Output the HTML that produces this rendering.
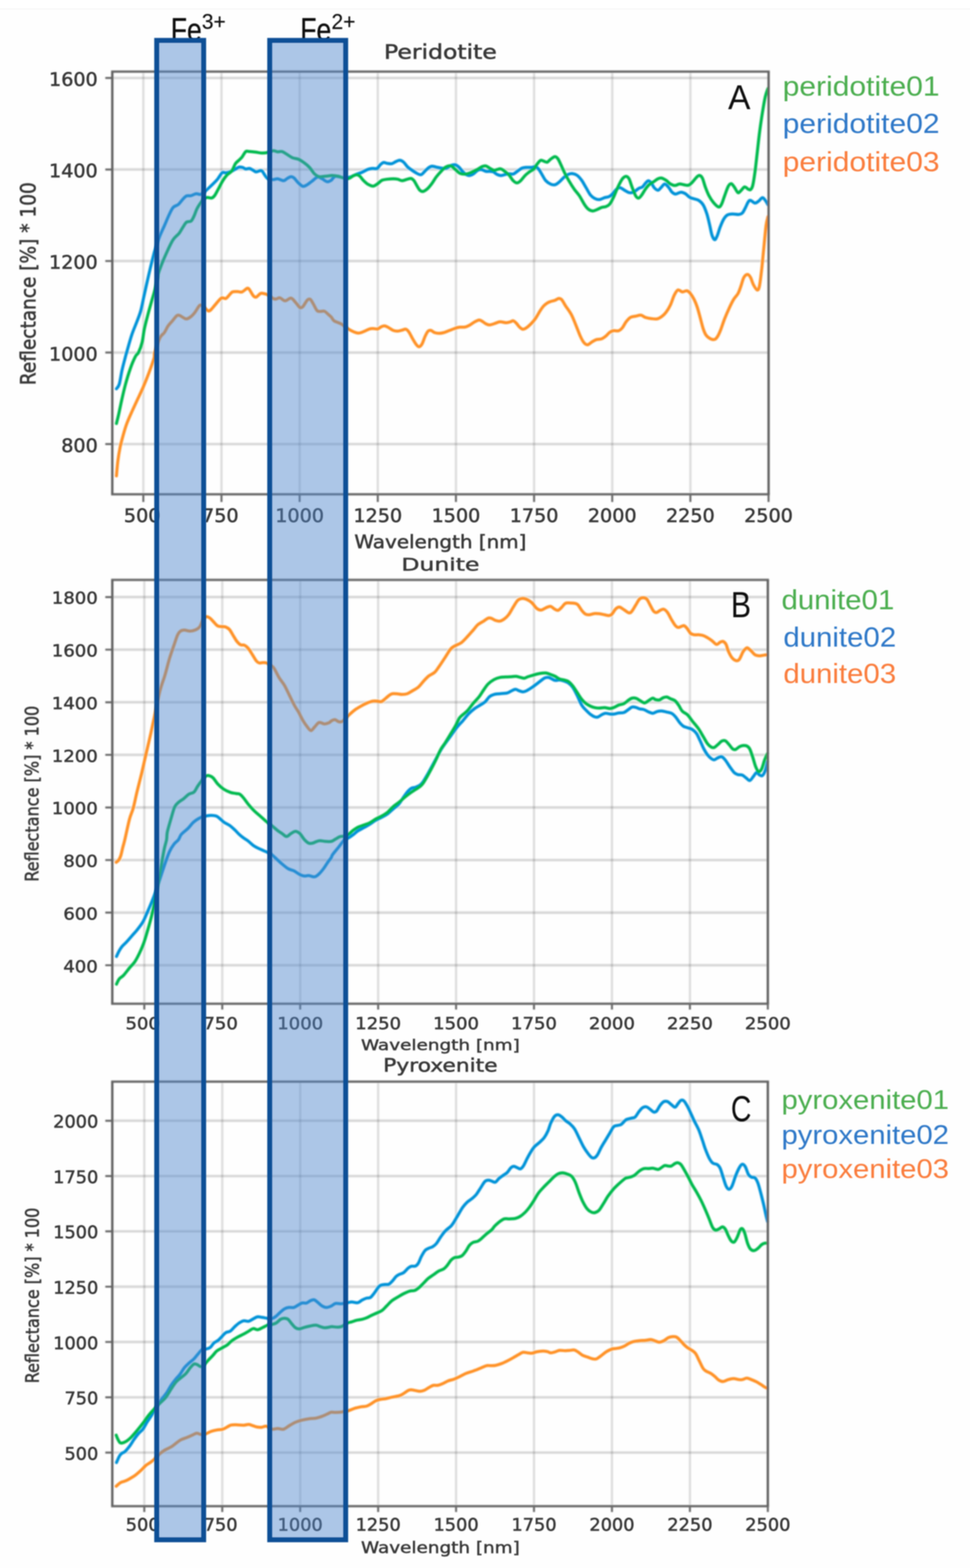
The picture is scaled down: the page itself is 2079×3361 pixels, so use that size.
<!DOCTYPE html>
<html lang="en"><head><meta charset="utf-8"><title>Reflectance spectra: Peridotite, Dunite, Pyroxenite</title>
<style>html,body{margin:0;padding:0;background:#fff}body{width:2079px;height:3361px;overflow:hidden}svg{display:block}</style></head><body>
<svg width="2079" height="3361" viewBox="0 0 2079 3361" role="img" aria-label="Reflectance spectra of peridotite, dunite and pyroxenite with Fe3+ and Fe2+ absorption bands">
<defs><filter id="bl" x="-5%" y="-5%" width="110%" height="110%"><feGaussianBlur stdDeviation="1.5"/></filter><filter id="br" x="-5%" y="-5%" width="110%" height="110%"><feGaussianBlur stdDeviation="1.0"/></filter><filter id="bt" x="-5%" y="-20%" width="110%" height="140%"><feGaussianBlur stdDeviation="1.2"/></filter></defs>
<rect width="2079" height="3361" fill="#fefefe"/><rect width="2079" height="18" fill="#ffffff"/><rect y="18" width="2079" height="2.5" fill="#f8f8f8"/>
<g filter="url(#bt)">
<text x="366" y="88" font-family='"Liberation Sans",sans-serif' font-size="70" fill="#111" stroke="#111" stroke-width="0.6"><tspan textLength="66.6" lengthAdjust="spacingAndGlyphs">Fe</tspan><tspan x="432.5" y="62.2" font-size="46" stroke-width="0.3" textLength="51.4" lengthAdjust="spacingAndGlyphs">3+</tspan></text>
<text x="643.5" y="88" font-family='"Liberation Sans",sans-serif' font-size="70" fill="#111" stroke="#111" stroke-width="0.6"><tspan textLength="66.6" lengthAdjust="spacingAndGlyphs">Fe</tspan><tspan x="710.5" y="62.2" font-size="46" stroke-width="0.3" textLength="51.4" lengthAdjust="spacingAndGlyphs">2+</tspan></text>
</g>
<g id="plotA">
<g filter="url(#bl)">
<path d="M307.2 153.5V1059.6M474.7 153.5V1059.6M642.2 153.5V1059.6M809.7 153.5V1059.6M977.2 153.5V1059.6M1144.7 153.5V1059.6M1312.2 153.5V1059.6M1479.7 153.5V1059.6" stroke="rgba(0,0,0,0.125)" stroke-width="5" fill="none"/>
<path d="M240.7 167.1H1647.3M240.7 363.3H1647.3M240.7 559.5H1647.3M240.7 755.7H1647.3M240.7 951.9H1647.3" stroke="rgba(0,0,0,0.15)" stroke-width="5.4" fill="none"/>
<path d="M249.6 1019.9C250.1 1014.6 251.3 998.5 252.6 988.2C253.9 978.0 255.7 967.3 257.5 958.4C259.3 949.5 261.2 942.9 263.5 934.6C265.8 926.3 268.1 917.7 271.4 908.8C274.7 899.9 279.3 889.9 283.3 881.0C287.3 872.1 291.2 863.8 295.2 855.2C299.2 846.6 303.1 838.6 307.1 829.4C311.1 820.1 315.2 810.0 319.0 799.7C322.8 789.5 327.9 775.2 330.0 767.9C332.1 760.6 329.5 763.2 331.6 755.9C333.7 748.6 339.3 731.2 342.7 724.1C346.1 717.0 349.3 717.2 352.2 713.0C355.1 708.8 357.3 702.9 360.2 698.7C363.1 694.5 366.5 691.3 369.7 687.6C372.9 683.9 376.5 678.4 379.2 676.5C381.9 674.6 382.4 675.3 385.6 676.5C388.8 677.7 394.6 683.0 398.3 683.5C402.0 684.0 404.6 681.9 407.8 679.7C411.0 677.5 413.9 674.4 417.3 670.2C420.7 666.0 425.2 656.4 428.4 654.3C431.6 652.2 433.4 655.5 436.3 657.5C439.2 659.5 443.2 665.2 445.9 666.3C448.5 667.3 449.6 666.1 452.2 663.8C454.8 661.5 458.0 656.8 461.7 652.7C465.4 648.6 470.7 641.1 474.4 639.0C478.1 636.9 481.4 640.9 484.0 640.0C486.6 639.1 487.9 636.1 490.3 633.7C492.7 631.3 495.1 627.1 498.3 625.7C501.5 624.3 506.0 625.1 509.4 625.1C512.8 625.1 515.5 626.9 518.9 625.7C522.3 624.5 527.4 618.6 530.0 617.8C532.6 617.0 532.7 618.4 534.8 621.0C536.9 623.6 540.3 631.1 542.7 633.7C545.1 636.3 546.4 637.6 549.0 636.8C551.6 636.0 555.7 630.1 558.6 628.9C561.5 627.7 563.9 629.0 566.5 629.5C569.1 630.0 571.2 630.4 574.4 632.1C577.6 633.9 582.7 638.5 585.6 640.0C588.5 641.5 589.5 641.3 591.9 641.0C594.3 640.7 596.6 637.8 599.8 638.4C603.0 639.0 607.0 644.7 611.0 644.8C615.0 644.9 620.0 638.5 623.7 639.0C627.4 639.5 630.0 644.6 633.2 647.9C636.4 651.2 640.1 657.4 642.7 659.0C645.3 660.6 646.4 660.1 649.0 657.5C651.6 654.9 656.0 645.9 658.6 643.2C661.2 640.6 662.8 640.3 664.9 641.6C667.0 642.9 668.9 647.1 671.3 651.1C673.7 655.1 676.8 662.6 679.2 665.4C681.6 668.1 683.0 667.3 685.6 667.6C688.2 667.9 692.2 666.0 695.1 667.0C698.0 668.0 700.5 671.2 703.0 673.3C705.5 675.4 707.9 677.3 710.0 679.7C712.1 682.1 713.3 685.6 715.9 687.6C718.5 689.6 722.5 690.4 725.4 691.7C728.3 693.0 729.6 693.3 733.3 695.6C737.0 697.9 743.4 703.1 747.6 705.7C751.8 708.3 755.2 710.0 758.7 711.4C762.2 712.8 764.8 714.1 768.3 714.0C771.8 713.9 775.4 712.3 779.4 710.8C783.4 709.3 788.4 706.2 792.1 705.1C795.8 704.0 798.7 704.4 801.6 704.4C804.5 704.4 806.9 705.8 809.5 705.1C812.1 704.4 814.9 701.4 817.5 700.3C820.1 699.2 822.8 698.3 825.4 698.7C828.0 699.1 830.4 700.9 833.3 702.5C836.2 704.1 839.7 707.1 842.9 708.3C846.1 709.5 849.2 709.9 852.4 709.8C855.6 709.7 859.0 708.3 861.9 707.6C864.8 706.9 867.4 705.1 869.8 705.7C872.2 706.3 873.8 708.1 876.2 711.4C878.6 714.7 881.5 721.2 884.1 725.7C886.8 730.2 889.7 735.5 892.1 738.4C894.5 741.3 896.3 743.5 898.4 743.2C900.5 742.9 902.7 740.5 904.8 736.8C906.9 733.1 909.0 725.5 911.1 721.0C913.2 716.5 915.4 711.9 917.5 709.8C919.6 707.7 921.4 707.8 923.8 708.3C926.2 708.8 928.8 712.0 931.7 713.0C934.6 714.0 938.1 714.6 941.3 714.6C944.5 714.6 947.1 714.0 950.8 713.0C954.5 712.0 959.3 709.9 963.5 708.3C967.7 706.7 972.5 704.7 976.2 703.5C979.9 702.3 982.3 701.7 985.7 701.3C989.1 700.9 993.4 701.7 996.8 701.0C1000.2 700.3 1002.8 699.0 1006.3 697.1C1009.8 695.2 1014.0 691.6 1017.5 689.8C1021.0 687.9 1024.4 686.2 1027.0 686.0C1029.6 685.8 1030.9 687.3 1033.3 688.6C1035.7 689.9 1038.6 692.7 1041.3 694.0C1044.0 695.3 1046.3 696.5 1049.2 696.5C1052.1 696.5 1055.0 695.1 1058.7 694.0C1062.4 692.9 1067.2 690.2 1071.4 689.8C1075.6 689.4 1080.4 691.7 1084.1 691.7C1087.8 691.7 1091.0 690.5 1093.7 689.8C1096.4 689.1 1097.9 687.2 1100.0 687.6C1102.1 688.0 1103.9 690.0 1106.3 692.4C1108.7 694.8 1111.9 699.7 1114.3 701.9C1116.7 704.1 1118.5 705.4 1120.6 705.7C1122.7 706.0 1124.3 705.2 1127.0 703.5C1129.7 701.8 1133.1 699.0 1136.5 695.6C1139.9 692.2 1144.2 687.7 1147.6 682.9C1151.0 678.1 1154.2 671.5 1157.1 667.0C1160.0 662.5 1162.4 658.8 1165.1 655.9C1167.8 653.0 1170.5 651.1 1173.0 649.5C1175.5 647.9 1177.2 647.2 1180.0 646.3C1182.8 645.3 1186.6 644.9 1189.5 643.8C1192.4 642.7 1195.1 640.0 1197.5 639.7C1199.9 639.4 1201.4 639.7 1203.8 642.2C1206.2 644.7 1208.3 649.6 1211.7 654.9C1215.1 660.2 1220.7 667.1 1224.4 674.0C1228.1 680.9 1230.8 688.5 1234.0 696.2C1237.2 703.9 1240.6 713.6 1243.5 720.0C1246.4 726.4 1248.8 731.1 1251.4 734.3C1254.1 737.5 1256.5 739.3 1259.4 739.0C1262.3 738.7 1265.7 734.6 1268.9 732.7C1272.1 730.9 1275.0 729.0 1278.4 727.9C1281.8 726.8 1286.1 727.6 1289.5 726.3C1292.9 725.0 1296.1 722.4 1299.0 720.0C1301.9 717.6 1304.3 714.0 1307.0 712.1C1309.7 710.2 1311.7 709.4 1314.9 708.9C1318.1 708.4 1322.8 710.0 1326.0 708.9C1329.2 707.8 1331.3 705.7 1334.0 702.5C1336.7 699.3 1339.0 693.5 1341.9 689.8C1344.8 686.1 1348.0 682.3 1351.4 680.3C1354.8 678.3 1358.8 678.6 1362.5 677.8C1366.2 677.0 1370.2 675.2 1373.7 675.6C1377.2 676.0 1379.5 679.1 1383.2 680.3C1386.9 681.5 1391.7 682.4 1395.9 682.9C1400.1 683.4 1404.9 684.2 1408.6 683.5C1412.3 682.8 1414.9 681.1 1418.1 678.7C1421.3 676.3 1424.4 673.4 1427.6 669.2C1430.8 665.0 1434.2 659.4 1437.1 653.3C1440.0 647.2 1442.4 638.0 1445.1 632.7C1447.8 627.4 1450.1 622.8 1453.0 621.6C1455.9 620.4 1459.3 625.4 1462.5 625.7C1465.7 626.0 1469.2 622.6 1472.1 623.2C1475.0 623.8 1477.4 626.3 1480.0 629.5C1482.6 632.7 1485.5 637.4 1487.9 642.2C1490.3 647.0 1492.2 651.8 1494.3 658.1C1496.4 664.5 1498.5 672.6 1500.6 680.3C1502.7 688.0 1504.9 697.8 1507.0 704.1C1509.1 710.5 1510.6 714.7 1513.3 718.4C1516.0 722.1 1519.7 724.8 1522.9 726.3C1526.1 727.8 1529.8 728.3 1532.4 727.3C1535.0 726.2 1536.6 723.6 1538.7 720.0C1540.8 716.4 1542.7 711.8 1545.1 705.7C1547.5 699.6 1550.1 690.9 1553.0 683.5C1555.9 676.1 1559.3 668.2 1562.5 661.3C1565.7 654.4 1568.9 647.5 1572.1 642.2C1575.3 636.9 1579.0 634.2 1581.6 629.5C1584.2 624.8 1585.8 619.5 1587.9 613.7C1590.0 607.9 1591.9 598.8 1594.3 594.6C1596.7 590.4 1599.8 588.3 1602.2 588.3C1604.6 588.3 1606.5 590.9 1608.6 594.6C1610.7 598.3 1612.5 606.0 1614.9 610.5C1617.3 615.0 1620.8 621.1 1622.9 621.6C1625.0 622.1 1626.0 620.9 1627.6 613.7C1629.2 606.6 1630.8 592.5 1632.4 578.7C1634.0 564.9 1635.5 547.0 1637.1 531.1C1638.7 515.2 1640.4 494.6 1641.9 483.5C1643.4 472.4 1645.3 467.6 1646.0 464.4" stroke="#ff9226" stroke-width="6.5" fill="none" stroke-linejoin="round" stroke-linecap="round"/>
<path d="M249.6 833.4C250.6 831.8 253.6 830.1 255.6 823.5C257.6 816.9 259.4 803.3 261.5 793.7C263.6 784.1 266.9 772.3 268.5 766.0C270.1 759.7 269.0 763.9 271.3 755.9C273.6 747.9 278.7 728.9 282.4 717.8C286.1 706.7 290.3 697.7 293.5 689.2C296.7 680.7 299.0 675.5 301.4 667.0C303.8 658.5 305.7 647.9 307.8 638.4C309.9 628.9 311.7 620.4 314.1 609.8C316.5 599.2 319.5 586.0 322.1 574.9C324.8 563.8 328.4 549.3 330.0 543.2C331.6 537.1 329.8 543.7 331.6 538.1C333.5 532.5 337.7 518.5 341.1 509.5C344.5 500.5 348.5 492.6 352.2 484.1C355.9 475.6 360.1 465.3 363.3 458.7C366.5 452.1 368.1 447.8 371.3 444.4C374.5 441.0 379.0 441.0 382.4 438.1C385.8 435.2 389.0 430.0 391.9 427.0C394.8 424.0 396.9 421.3 399.8 420.0C402.7 418.7 405.9 420.2 409.4 419.4C412.8 418.6 417.1 415.6 420.5 415.2C423.9 414.8 427.1 417.4 430.0 416.8C432.9 416.2 434.2 414.8 437.9 411.7C441.6 408.6 447.7 402.7 452.2 398.4C456.7 394.1 460.9 390.3 464.9 385.7C468.9 381.1 472.8 373.0 476.0 370.5C479.2 368.0 481.1 370.9 484.0 370.5C486.9 370.1 490.3 369.5 493.5 368.3C496.7 367.1 499.8 365.2 503.0 363.5C506.2 361.8 509.6 358.9 512.5 358.1C515.4 357.4 518.1 358.3 520.5 359.0C522.9 359.7 524.4 361.9 526.8 362.2C529.2 362.5 532.1 360.5 534.8 361.0C537.4 361.5 540.3 363.8 542.7 365.1C545.1 366.4 546.6 368.5 549.0 368.6C551.4 368.8 554.9 366.3 557.0 366.0C559.1 365.7 559.9 365.0 561.7 366.7C563.6 368.4 566.0 373.4 568.1 376.2C570.2 378.9 571.5 381.7 574.4 383.2C577.3 384.7 582.1 385.1 585.6 385.1C589.1 385.1 591.4 382.8 595.1 383.2C598.8 383.6 604.4 387.4 607.8 387.3C611.2 387.2 613.1 383.9 615.7 382.5C618.4 381.1 621.3 378.9 623.7 378.7C626.1 378.5 627.4 379.1 630.0 381.3C632.6 383.5 636.3 389.1 639.5 392.1C642.7 395.1 646.1 398.6 649.0 399.4C651.9 400.2 653.8 398.6 657.0 396.8C660.2 395.1 664.1 391.8 668.1 388.9C672.1 386.0 677.1 380.3 680.8 379.4C684.5 378.4 686.9 381.5 690.3 383.2C693.7 384.9 698.1 389.0 701.4 389.5C704.7 390.0 708.1 387.4 710.0 386.3C711.9 385.2 711.2 384.6 712.7 383.2C714.2 381.8 716.4 378.4 719.0 377.8C721.6 377.2 725.1 378.9 728.6 379.4C732.1 379.9 736.0 381.0 739.7 381.0C743.4 381.0 746.8 380.6 750.8 379.4C754.8 378.2 759.3 375.4 763.5 373.7C767.7 372.0 772.0 371.0 776.2 369.2C780.4 367.4 785.2 364.3 788.9 362.9C792.6 361.5 795.2 361.3 798.4 361.0C801.6 360.7 805.0 362.4 807.9 361.0C810.8 359.6 813.5 354.5 815.9 352.4C818.3 350.3 819.8 348.7 822.2 348.3C824.6 347.9 827.3 349.8 830.2 350.2C833.1 350.6 836.5 351.5 839.7 350.8C842.9 350.1 846.3 347.2 849.2 346.0C852.1 344.8 854.5 343.2 857.1 343.5C859.8 343.8 862.5 345.3 865.1 347.6C867.8 349.9 870.4 354.5 873.0 357.1C875.6 359.8 878.1 361.4 881.0 363.5C883.9 365.6 887.1 367.9 890.5 369.8C893.9 371.7 898.4 374.9 901.6 374.6C904.8 374.4 906.9 370.7 909.5 368.3C912.1 365.9 914.9 362.3 917.5 360.3C920.1 358.3 922.5 356.6 925.4 356.2C928.3 355.8 931.5 357.4 934.9 358.1C938.3 358.8 942.3 359.9 946.0 360.3C949.7 360.7 953.6 361.2 957.1 360.3C960.6 359.4 963.5 355.8 966.7 354.6C969.9 353.4 973.3 352.6 976.2 353.3C979.1 354.0 981.5 356.2 984.1 358.7C986.8 361.2 989.5 365.6 992.1 368.3C994.8 371.0 997.6 373.3 1000.0 374.6C1002.4 375.9 1003.9 376.5 1006.3 376.2C1008.7 375.9 1011.4 374.9 1014.3 373.0C1017.2 371.1 1020.9 366.7 1023.8 365.1C1026.7 363.5 1028.8 363.1 1031.7 363.5C1034.6 363.9 1038.4 366.7 1041.3 367.3C1044.2 367.9 1046.6 367.1 1049.2 367.3C1051.8 367.5 1054.4 367.2 1057.1 368.3C1059.8 369.4 1062.4 372.4 1065.1 373.7C1067.8 375.0 1070.3 376.0 1073.0 376.2C1075.7 376.4 1078.1 375.2 1081.0 374.6C1083.9 374.0 1087.3 372.7 1090.5 372.4C1093.7 372.1 1096.8 373.9 1100.0 373.0C1103.2 372.1 1106.3 368.8 1109.5 366.7C1112.7 364.6 1115.8 361.6 1119.0 360.3C1122.2 359.0 1125.1 359.0 1128.6 358.7C1132.0 358.4 1136.5 359.0 1139.7 358.7C1142.9 358.4 1145.2 356.6 1147.6 357.1C1150.0 357.6 1151.6 359.0 1154.0 361.9C1156.4 364.8 1159.3 370.4 1161.9 374.6C1164.5 378.8 1166.8 384.0 1169.8 387.3C1172.8 390.6 1176.7 393.2 1180.0 394.6C1183.3 396.1 1186.3 396.8 1189.5 396.0C1192.7 395.2 1195.8 392.3 1199.0 389.7C1202.2 387.1 1205.4 382.8 1208.6 380.2C1211.8 377.6 1214.9 375.1 1218.1 373.8C1221.3 372.5 1224.4 371.8 1227.6 372.2C1230.8 372.6 1233.9 373.6 1237.1 376.0C1240.3 378.4 1243.5 382.1 1246.7 386.5C1249.9 390.9 1253.0 397.1 1256.2 402.4C1259.4 407.7 1262.5 414.4 1265.7 418.3C1268.9 422.2 1272.0 424.0 1275.2 425.6C1278.4 427.2 1281.3 428.1 1284.8 427.8C1288.2 427.5 1292.5 424.8 1295.9 423.7C1299.3 422.6 1302.5 422.8 1305.4 421.4C1308.3 420.0 1310.7 417.7 1313.3 415.1C1315.9 412.5 1318.6 407.7 1321.3 405.6C1324.0 403.5 1326.3 402.0 1329.2 402.4C1332.1 402.8 1335.5 406.1 1338.7 407.8C1341.9 409.6 1345.1 412.2 1348.3 412.9C1351.5 413.6 1354.4 413.4 1357.8 411.9C1361.2 410.4 1365.7 405.9 1368.9 404.0C1372.1 402.1 1374.4 402.7 1376.8 400.8C1379.2 398.9 1381.1 395.1 1383.2 392.9C1385.3 390.7 1387.4 387.7 1389.5 387.5C1391.6 387.3 1393.8 389.4 1395.9 391.9C1398.0 394.4 1399.8 399.8 1402.2 402.4C1404.6 405.0 1407.8 407.8 1410.2 407.8C1412.6 407.8 1414.1 404.6 1416.5 402.4C1418.9 400.2 1421.8 394.7 1424.4 394.4C1427.1 394.1 1429.8 397.9 1432.4 400.8C1435.1 403.7 1437.7 409.4 1440.3 411.9C1442.9 414.4 1445.1 416.0 1448.3 416.0C1451.5 416.0 1456.0 412.0 1459.4 411.9C1462.8 411.8 1465.7 413.2 1468.9 415.1C1472.1 417.0 1475.2 421.1 1478.4 423.0C1481.6 424.9 1484.7 425.2 1487.9 426.3C1491.1 427.4 1494.3 427.4 1497.5 429.5C1500.7 431.6 1504.1 434.2 1507.0 439.0C1509.9 443.8 1512.5 450.7 1514.9 458.1C1517.3 465.5 1519.5 475.8 1521.3 483.5C1523.1 491.2 1524.3 499.1 1526.0 504.1C1527.7 509.1 1529.9 513.4 1531.7 513.7C1533.5 514.0 1535.1 510.2 1537.1 505.7C1539.1 501.2 1541.1 492.8 1543.5 486.7C1545.9 480.6 1548.8 473.5 1551.4 469.2C1554.1 464.9 1556.2 462.4 1559.4 460.6C1562.6 458.9 1566.5 458.9 1570.5 458.7C1574.5 458.5 1579.8 460.1 1583.2 459.7C1586.6 459.3 1588.7 458.9 1591.1 456.5C1593.5 454.1 1595.4 449.4 1597.5 445.4C1599.6 441.4 1602.0 435.3 1603.8 432.7C1605.6 430.1 1606.2 429.1 1608.6 429.5C1611.0 429.9 1615.2 434.9 1618.1 435.2C1621.0 435.5 1623.3 433.0 1626.0 431.1C1628.7 429.2 1631.6 424.1 1634.0 423.8C1636.4 423.5 1638.3 427.0 1640.3 429.5C1642.3 432.0 1645.0 437.4 1646.0 439.0" stroke="#0693d8" stroke-width="6.5" fill="none" stroke-linejoin="round" stroke-linecap="round"/>
<path d="M249.6 907.8C250.4 904.3 252.8 895.1 254.6 887.0C256.4 878.9 258.2 869.5 260.5 859.2C262.8 849.0 265.4 837.1 268.5 825.5C271.6 813.9 275.8 800.0 279.4 789.8C283.0 779.5 287.4 769.6 290.3 764.0C293.2 758.4 294.3 760.9 296.7 755.9C299.1 750.9 302.5 742.2 304.6 733.7C306.7 725.2 307.3 715.2 309.4 705.1C311.5 695.0 314.7 683.3 317.3 673.3C319.9 663.2 322.8 653.3 325.2 644.8C327.6 636.3 329.5 630.7 331.6 622.5C333.7 614.3 336.6 601.7 337.9 595.6C339.2 589.5 337.6 591.6 339.5 585.7C341.4 579.8 345.6 568.8 349.0 560.3C352.4 551.8 356.8 542.3 360.2 534.9C363.6 527.5 367.1 520.4 369.7 515.9C372.3 511.4 373.6 510.5 376.0 507.9C378.4 505.2 381.4 503.4 384.0 500.0C386.6 496.6 389.3 491.3 391.9 487.3C394.5 483.3 396.9 478.4 399.8 476.2C402.7 474.0 406.8 476.1 409.4 474.0C412.0 471.9 413.6 467.9 415.7 463.5C417.8 459.1 419.7 452.4 422.1 447.6C424.5 442.8 427.4 438.6 430.0 434.9C432.6 431.2 435.5 427.3 437.9 425.4C440.3 423.4 441.6 423.4 444.3 423.2C447.0 423.0 451.2 425.1 453.8 424.4C456.4 423.7 457.8 422.3 460.2 419.0C462.6 415.7 465.2 410.1 468.1 404.8C471.0 399.5 474.4 392.3 477.6 387.3C480.8 382.3 483.9 378.0 487.1 374.6C490.3 371.2 493.8 370.7 496.7 366.7C499.6 362.7 502.2 354.5 504.6 350.8C507.0 347.1 508.6 346.8 511.0 344.4C513.4 342.0 516.3 339.8 518.9 336.5C521.5 333.2 524.1 326.8 526.8 324.8C529.4 322.9 531.3 324.6 534.8 324.8C538.2 325.0 543.3 325.5 547.5 326.0C551.7 326.5 556.0 327.7 560.2 327.9C564.4 328.1 568.7 327.8 572.9 327.0C577.1 326.2 581.9 323.2 585.6 322.9C589.3 322.6 591.9 325.1 595.1 325.4C598.3 325.7 601.4 324.0 604.6 324.8C607.8 325.6 610.4 328.0 614.1 330.2C617.8 332.4 622.6 336.2 626.8 338.1C631.0 340.0 635.3 339.5 639.5 341.3C643.7 343.1 648.2 346.3 652.2 349.2C656.2 352.1 659.6 354.7 663.3 358.7C667.0 362.7 670.9 369.7 674.4 373.0C677.9 376.3 680.3 377.9 684.0 378.7C687.7 379.5 692.4 378.2 696.7 377.8C701.0 377.4 707.3 376.5 710.0 376.2C712.7 375.9 710.1 375.9 712.7 376.2C715.3 376.5 721.7 377.0 725.4 377.8C729.1 378.6 731.2 380.2 734.9 381.0C738.6 381.8 743.9 383.2 747.6 382.5C751.3 381.8 754.2 378.1 757.1 376.8C760.0 375.5 762.7 374.4 765.1 374.6C767.5 374.8 769.0 375.7 771.4 377.8C773.8 379.9 776.5 384.4 779.4 387.3C782.3 390.2 785.5 393.2 788.9 395.2C792.3 397.1 796.6 399.2 800.0 399.0C803.4 398.8 806.3 395.8 809.5 393.7C812.7 391.6 815.5 387.9 819.0 386.3C822.5 384.7 826.2 384.6 830.2 384.1C834.2 383.6 839.2 383.2 842.9 383.2C846.6 383.2 849.2 383.4 852.4 384.1C855.6 384.8 858.5 387.3 861.9 387.3C865.3 387.3 869.8 384.9 873.0 384.1C876.2 383.3 878.6 382.0 881.0 382.5C883.4 383.0 885.2 384.7 887.3 387.3C889.4 389.9 891.6 395.0 893.7 398.4C895.8 401.8 897.9 405.9 900.0 407.9C902.1 409.9 903.6 411.0 906.3 410.5C908.9 410.0 912.7 407.6 915.9 404.8C919.1 402.0 922.2 397.9 925.4 393.7C928.6 389.5 931.5 383.9 934.9 379.4C938.3 374.9 942.5 370.3 946.0 366.7C949.5 363.1 952.1 359.6 955.6 357.8C959.1 356.0 963.3 354.7 966.7 355.6C970.1 356.6 973.0 360.9 976.2 363.5C979.4 366.1 982.0 369.8 985.7 371.4C989.4 373.0 994.2 373.4 998.4 373.0C1002.6 372.6 1006.9 370.9 1011.1 369.2C1015.3 367.5 1020.1 364.9 1023.8 362.9C1027.5 360.9 1030.4 358.3 1033.3 357.1C1036.2 355.9 1038.6 355.1 1041.3 355.6C1044.0 356.1 1046.3 358.7 1049.2 360.3C1052.1 361.9 1056.1 364.6 1058.7 365.1C1061.3 365.6 1062.7 364.0 1065.1 363.5C1067.5 363.0 1070.3 361.4 1073.0 361.9C1075.7 362.4 1078.1 364.6 1081.0 366.7C1083.9 368.8 1087.3 371.2 1090.5 374.6C1093.7 378.0 1097.1 384.4 1100.0 387.3C1102.9 390.2 1105.2 392.1 1107.9 392.1C1110.6 392.1 1113.0 390.0 1115.9 387.3C1118.8 384.6 1122.2 379.4 1125.4 376.2C1128.6 373.0 1131.7 370.7 1134.9 368.3C1138.1 365.9 1141.8 364.5 1144.4 361.9C1147.1 359.2 1148.4 355.4 1150.8 352.4C1153.2 349.4 1156.0 344.9 1158.7 343.8C1161.4 342.7 1164.3 345.4 1166.7 346.0C1169.1 346.6 1170.8 348.4 1173.0 347.6C1175.2 346.8 1177.2 343.3 1180.0 341.3C1182.8 339.3 1186.8 335.8 1189.5 335.7C1192.2 335.6 1193.8 337.6 1195.9 340.5C1198.0 343.4 1199.8 348.2 1202.2 353.2C1204.6 358.2 1207.3 364.8 1210.2 370.6C1213.1 376.4 1216.3 382.3 1219.7 388.1C1223.1 393.9 1227.1 400.3 1230.8 405.6C1234.5 410.9 1238.2 414.2 1241.9 419.8C1245.6 425.4 1249.8 434.1 1253.0 438.9C1256.2 443.7 1258.1 446.2 1261.0 448.4C1263.9 450.6 1267.3 452.1 1270.5 452.2C1273.7 452.3 1276.8 450.3 1280.0 449.0C1283.2 447.7 1286.3 445.7 1289.5 444.6C1292.7 443.6 1296.1 443.9 1299.0 442.7C1301.9 441.5 1304.3 440.6 1307.0 437.3C1309.7 434.0 1312.0 429.1 1314.9 423.0C1317.8 416.9 1321.2 407.4 1324.4 400.8C1327.6 394.2 1331.1 387.1 1334.0 383.3C1336.9 379.5 1339.5 377.9 1341.9 377.9C1344.3 377.9 1346.2 379.5 1348.3 383.3C1350.4 387.1 1352.2 394.7 1354.6 400.8C1357.0 406.9 1360.1 415.8 1362.5 419.8C1364.9 423.8 1366.8 424.9 1368.9 424.6C1371.0 424.4 1372.8 421.5 1375.2 418.3C1377.6 415.1 1380.6 409.3 1383.2 405.6C1385.8 401.9 1388.2 398.6 1391.1 396.0C1394.0 393.4 1397.4 391.8 1400.6 389.7C1403.8 387.6 1407.3 384.6 1410.2 383.3C1413.1 382.0 1415.2 381.2 1418.1 381.7C1421.0 382.2 1424.4 384.4 1427.6 386.5C1430.8 388.6 1433.9 392.5 1437.1 394.4C1440.3 396.2 1443.5 397.6 1446.7 397.6C1449.9 397.6 1453.0 394.7 1456.2 394.4C1459.4 394.1 1462.5 395.6 1465.7 396.0C1468.9 396.4 1472.3 397.8 1475.2 397.0C1478.1 396.2 1480.3 394.1 1483.2 391.3C1486.1 388.5 1490.1 382.8 1492.7 380.2C1495.3 377.6 1496.9 375.8 1499.0 376.0C1501.1 376.2 1503.3 377.6 1505.4 381.7C1507.5 385.8 1509.3 394.4 1511.7 400.8C1514.1 407.2 1516.8 414.2 1519.7 419.8C1522.6 425.4 1525.8 430.1 1529.2 434.1C1532.6 438.1 1537.4 443.2 1540.3 443.7C1543.2 444.2 1544.6 441.3 1546.7 437.3C1548.8 433.3 1550.6 426.2 1553.0 419.8C1555.4 413.4 1558.6 403.5 1561.0 399.2C1563.4 394.9 1565.2 393.5 1567.3 393.8C1569.4 394.1 1571.3 397.6 1573.7 400.8C1576.1 404.0 1579.2 411.6 1581.6 412.9C1584.0 414.2 1585.5 410.7 1587.9 408.7C1590.3 406.7 1593.2 401.3 1595.9 400.8C1598.6 400.3 1601.7 404.7 1603.8 405.6C1605.9 406.6 1607.0 407.8 1608.6 406.5C1610.2 405.2 1611.7 403.9 1613.3 397.6C1614.9 391.4 1616.5 380.6 1618.1 369.0C1619.7 357.4 1621.3 341.6 1622.9 327.8C1624.5 314.1 1625.8 300.8 1627.6 286.5C1629.4 272.2 1631.9 255.3 1634.0 242.1C1636.1 228.9 1638.3 215.8 1640.3 207.1C1642.3 198.4 1645.0 192.6 1646.0 189.7" stroke="#00ba4e" stroke-width="6.5" fill="none" stroke-linejoin="round" stroke-linecap="round"/>
<path d="M307.2 1059.6v16.5M474.7 1059.6v16.5M642.2 1059.6v16.5M809.7 1059.6v16.5M977.2 1059.6v16.5M1144.7 1059.6v16.5M1312.2 1059.6v16.5M1479.7 1059.6v16.5M1647.2 1059.6v16.5M240.7 167.1h-15M240.7 363.3h-15M240.7 559.5h-15M240.7 755.7h-15M240.7 951.9h-15" stroke="#666666" stroke-width="4.2" fill="none"/>
<path d="M238.2 153.5H1649.8M238.2 1059.6H1649.8" fill="none" stroke="#6c6c6c" stroke-width="5.0"/>
<path d="M240.7 153.5V1059.6M1647.3 153.5V1059.6" fill="none" stroke="#606060" stroke-width="5.0"/>
</g>
<g filter="url(#bt)">
<text transform="translate(304.7,1119.4) scale(1.0530,1.0200)" font-family='"DejaVu Sans","Liberation Sans",sans-serif' font-size="39" text-anchor="middle" fill="#383838" stroke="#383838" stroke-width="1.0">500</text>
<text transform="translate(472.2,1119.4) scale(1.0530,1.0200)" font-family='"DejaVu Sans","Liberation Sans",sans-serif' font-size="39" text-anchor="middle" fill="#383838" stroke="#383838" stroke-width="1.0">750</text>
<text transform="translate(642.2,1119.4) scale(1.0530,1.0200)" font-family='"DejaVu Sans","Liberation Sans",sans-serif' font-size="39" text-anchor="middle" fill="#383838" stroke="#383838" stroke-width="1.0">1000</text>
<text transform="translate(809.7,1119.4) scale(1.0530,1.0200)" font-family='"DejaVu Sans","Liberation Sans",sans-serif' font-size="39" text-anchor="middle" fill="#383838" stroke="#383838" stroke-width="1.0">1250</text>
<text transform="translate(977.2,1119.4) scale(1.0530,1.0200)" font-family='"DejaVu Sans","Liberation Sans",sans-serif' font-size="39" text-anchor="middle" fill="#383838" stroke="#383838" stroke-width="1.0">1500</text>
<text transform="translate(1144.7,1119.4) scale(1.0530,1.0200)" font-family='"DejaVu Sans","Liberation Sans",sans-serif' font-size="39" text-anchor="middle" fill="#383838" stroke="#383838" stroke-width="1.0">1750</text>
<text transform="translate(1312.2,1119.4) scale(1.0530,1.0200)" font-family='"DejaVu Sans","Liberation Sans",sans-serif' font-size="39" text-anchor="middle" fill="#383838" stroke="#383838" stroke-width="1.0">2000</text>
<text transform="translate(1479.7,1119.4) scale(1.0530,1.0200)" font-family='"DejaVu Sans","Liberation Sans",sans-serif' font-size="39" text-anchor="middle" fill="#383838" stroke="#383838" stroke-width="1.0">2250</text>
<text transform="translate(1647.2,1119.4) scale(1.0530,1.0200)" font-family='"DejaVu Sans","Liberation Sans",sans-serif' font-size="39" text-anchor="middle" fill="#383838" stroke="#383838" stroke-width="1.0">2500</text>
<text transform="translate(209.5,184.1) scale(1.0530,1.0200)" font-family='"DejaVu Sans","Liberation Sans",sans-serif' font-size="39" text-anchor="end" fill="#383838" stroke="#383838" stroke-width="1.0">1600</text>
<text transform="translate(209.5,380.3) scale(1.0530,1.0200)" font-family='"DejaVu Sans","Liberation Sans",sans-serif' font-size="39" text-anchor="end" fill="#383838" stroke="#383838" stroke-width="1.0">1400</text>
<text transform="translate(209.5,576.5) scale(1.0530,1.0200)" font-family='"DejaVu Sans","Liberation Sans",sans-serif' font-size="39" text-anchor="end" fill="#383838" stroke="#383838" stroke-width="1.0">1200</text>
<text transform="translate(209.5,772.7) scale(1.0530,1.0200)" font-family='"DejaVu Sans","Liberation Sans",sans-serif' font-size="39" text-anchor="end" fill="#383838" stroke="#383838" stroke-width="1.0">1000</text>
<text transform="translate(209.5,968.9) scale(1.0530,1.0200)" font-family='"DejaVu Sans","Liberation Sans",sans-serif' font-size="39" text-anchor="end" fill="#383838" stroke="#383838" stroke-width="1.0">800</text>
<text transform="translate(943.9,1175.0) scale(1.0950,1.0000)" font-family='"DejaVu Sans","Liberation Sans",sans-serif' font-size="39" text-anchor="middle" fill="#383838" stroke="#383838" stroke-width="1.0">Wavelength [nm]</text>
<text transform="translate(943.9,125.5) scale(1.2000,1.0000)" font-family='"DejaVu Sans","Liberation Sans",sans-serif' font-size="42" text-anchor="middle" fill="#383838" stroke="#383838" stroke-width="1.0">Peridotite</text>
<text transform="translate(75.5,608.2) rotate(-90) scale(0.9930,1.0900)" font-family='"DejaVu Sans","Liberation Sans",sans-serif' font-size="40" text-anchor="middle" fill="#383838" stroke="#383838" stroke-width="1.0">Reflectance [%] * 100</text>
<text transform="translate(1584.5,234.0) scale(0.9700,1.0000)" font-family='"Liberation Sans",sans-serif' font-size="74" text-anchor="middle" fill="#0a0a0a">A</text>
<text transform="translate(1677.5,204.5) scale(1.1000,1.0000)" font-family='"Liberation Sans",sans-serif' font-size="58.5" text-anchor="start" fill="#4bae4f">peridotite01</text>
<text transform="translate(1677.5,284.8) scale(1.1000,1.0000)" font-family='"Liberation Sans",sans-serif' font-size="58.5" text-anchor="start" fill="#2f78c8">peridotite02</text>
<text transform="translate(1677.5,367.3) scale(1.1000,1.0000)" font-family='"Liberation Sans",sans-serif' font-size="58.5" text-anchor="start" fill="#fa7d3c">peridotite03</text>
</g>
</g>
<g id="plotB">
<g filter="url(#bl)">
<path d="M309.3 1242.9V2151.4M476.4 1242.9V2151.4M643.4 1242.9V2151.4M810.5 1242.9V2151.4M977.5 1242.9V2151.4M1144.5 1242.9V2151.4M1311.6 1242.9V2151.4M1478.7 1242.9V2151.4" stroke="rgba(0,0,0,0.125)" stroke-width="5" fill="none"/>
<path d="M240.7 1279.8H1645.7M240.7 1392.5H1645.7M240.7 1505.3H1645.7M240.7 1618.0H1645.7M240.7 1730.8H1645.7M240.7 1843.5H1645.7M240.7 1956.2H1645.7M240.7 2069.0H1645.7" stroke="rgba(0,0,0,0.15)" stroke-width="5.4" fill="none"/>
<path d="M249.0 1848.3C249.8 1847.7 252.2 1846.6 253.8 1844.4C255.4 1842.2 257.0 1839.7 258.6 1834.9C260.2 1830.2 261.8 1821.7 263.3 1815.9C264.8 1810.1 265.1 1810.0 267.5 1800.0C269.9 1790.0 274.6 1766.9 277.6 1755.6C280.6 1744.3 283.0 1741.7 285.6 1732.1C288.2 1722.5 290.6 1709.9 293.5 1697.8C296.4 1685.7 299.8 1672.9 303.0 1659.7C306.2 1646.5 309.3 1632.2 312.5 1618.4C315.7 1604.6 318.9 1591.4 322.1 1577.1C325.3 1562.8 328.2 1548.7 331.6 1532.7C335.0 1516.7 339.0 1495.7 342.7 1481.3C346.4 1466.9 350.4 1457.9 353.8 1446.3C357.2 1434.7 360.1 1422.0 363.3 1411.4C366.5 1400.8 370.0 1391.4 372.9 1382.9C375.8 1374.4 378.4 1365.6 380.8 1360.6C383.2 1355.6 384.7 1354.4 387.1 1352.7C389.5 1351.0 391.7 1350.5 395.1 1350.5C398.6 1350.5 403.6 1352.9 407.8 1352.7C412.0 1352.5 417.1 1351.1 420.5 1349.5C423.9 1347.9 426.0 1346.6 428.4 1343.2C430.8 1339.8 432.7 1332.5 434.8 1328.9C436.9 1325.4 438.7 1322.7 441.1 1321.9C443.5 1321.1 446.4 1322.4 449.0 1324.1C451.6 1325.8 454.1 1329.2 457.0 1332.1C459.9 1335.0 463.3 1339.8 466.5 1341.6C469.7 1343.4 473.1 1342.8 476.0 1343.2C478.9 1343.6 481.4 1343.0 484.0 1344.1C486.6 1345.1 489.3 1346.5 491.9 1349.5C494.5 1352.5 497.1 1358.0 499.8 1362.2C502.5 1366.4 505.1 1371.6 507.8 1374.9C510.5 1378.2 513.1 1380.9 515.7 1382.2C518.4 1383.5 521.1 1381.7 523.7 1382.9C526.4 1384.1 528.7 1385.8 531.6 1389.2C534.5 1392.6 538.2 1399.0 541.1 1403.5C544.0 1408.0 546.6 1413.3 549.0 1416.2C551.4 1419.1 553.0 1420.3 555.4 1421.0C557.8 1421.7 560.6 1420.3 563.3 1420.3C565.9 1420.3 568.6 1420.1 571.3 1421.0C573.9 1421.9 576.6 1423.9 579.2 1425.7C581.8 1427.5 583.9 1427.6 587.1 1432.1C590.3 1436.6 594.6 1446.6 598.3 1452.7C602.0 1458.8 605.7 1462.2 609.4 1468.6C613.1 1474.9 616.8 1483.4 620.5 1490.8C624.2 1498.2 628.4 1507.2 631.6 1513.0C634.8 1518.8 636.6 1520.6 639.5 1525.7C642.4 1530.8 645.8 1538.4 649.0 1543.8C652.2 1549.2 655.7 1554.4 658.6 1558.1C661.5 1561.8 663.9 1566.0 666.5 1566.0C669.1 1566.0 671.5 1561.0 674.4 1558.1C677.3 1555.2 680.5 1549.7 684.0 1548.6C687.5 1547.5 691.4 1551.7 695.1 1551.7C698.8 1551.7 703.8 1549.6 706.2 1548.6C708.6 1547.6 707.6 1546.7 709.5 1545.7C711.4 1544.7 714.6 1542.2 717.5 1542.5C720.4 1542.8 724.1 1546.8 727.0 1547.3C729.9 1547.8 731.5 1548.1 734.9 1545.7C738.3 1543.3 743.4 1537.0 747.6 1533.0C751.8 1529.0 756.1 1525.1 760.3 1521.9C764.5 1518.7 768.8 1516.4 773.0 1514.0C777.2 1511.6 781.5 1509.4 785.7 1507.6C789.9 1505.8 794.4 1503.7 798.4 1502.9C802.4 1502.1 806.3 1502.8 809.5 1502.9C812.7 1503.1 814.6 1504.9 817.5 1503.8C820.4 1502.7 823.6 1499.2 827.0 1496.5C830.4 1493.8 834.4 1489.5 838.1 1487.9C841.8 1486.3 845.2 1486.9 849.2 1487.0C853.2 1487.1 857.9 1488.6 861.9 1488.6C865.9 1488.6 869.3 1488.3 873.0 1487.0C876.7 1485.7 880.1 1483.0 884.1 1480.6C888.1 1478.2 892.8 1476.1 896.8 1472.7C900.8 1469.3 904.2 1464.0 907.9 1460.0C911.6 1456.0 915.0 1452.1 919.0 1448.9C923.0 1445.7 928.0 1444.4 931.7 1441.0C935.4 1437.6 937.6 1433.6 941.3 1428.3C945.0 1423.0 949.8 1415.5 954.0 1409.2C958.2 1402.9 963.0 1394.4 966.7 1390.2C970.4 1386.0 972.5 1385.9 976.2 1383.8C979.9 1381.7 984.7 1380.7 988.9 1377.5C993.1 1374.3 997.4 1369.3 1001.6 1364.8C1005.8 1360.3 1010.6 1354.7 1014.3 1350.5C1018.0 1346.3 1020.1 1342.6 1023.8 1339.4C1027.5 1336.2 1032.8 1333.8 1036.5 1331.4C1040.2 1329.0 1043.3 1326.1 1046.0 1325.1C1048.7 1324.0 1049.8 1324.3 1052.4 1325.1C1055.1 1325.9 1058.7 1328.8 1061.9 1329.8C1065.1 1330.8 1068.2 1331.9 1071.4 1331.4C1074.6 1330.9 1077.8 1329.1 1081.0 1326.7C1084.2 1324.3 1087.3 1321.3 1090.5 1317.1C1093.7 1312.9 1096.8 1306.3 1100.0 1301.3C1103.2 1296.3 1106.3 1290.1 1109.5 1287.0C1112.7 1283.9 1115.8 1283.3 1119.0 1282.9C1122.2 1282.5 1125.1 1283.3 1128.6 1284.8C1132.0 1286.3 1136.0 1288.4 1139.7 1291.7C1143.4 1295.0 1147.4 1301.8 1150.8 1304.4C1154.2 1307.1 1157.1 1307.8 1160.3 1307.6C1163.5 1307.3 1166.5 1304.2 1169.8 1302.9C1173.1 1301.6 1177.0 1299.3 1180.0 1299.7C1183.0 1300.1 1185.2 1303.7 1187.9 1305.1C1190.6 1306.5 1193.2 1308.8 1195.9 1308.3C1198.6 1307.8 1201.2 1304.4 1203.8 1301.9C1206.4 1299.4 1208.8 1294.9 1211.7 1293.3C1214.6 1291.7 1217.8 1292.4 1221.3 1292.4C1224.8 1292.4 1229.5 1292.6 1232.4 1293.3C1235.3 1294.0 1236.3 1294.0 1238.7 1296.5C1241.1 1299.0 1244.1 1305.0 1246.7 1308.3C1249.3 1311.6 1252.0 1314.6 1254.6 1316.2C1257.2 1317.8 1259.3 1318.0 1262.5 1317.8C1265.7 1317.6 1270.0 1315.6 1273.7 1315.2C1277.4 1314.8 1281.1 1315.2 1284.8 1315.6C1288.5 1316.0 1292.5 1317.2 1295.9 1317.8C1299.3 1318.4 1302.8 1319.7 1305.4 1319.4C1308.0 1319.1 1309.3 1318.6 1311.7 1316.2C1314.1 1313.8 1317.1 1307.6 1319.7 1305.1C1322.3 1302.6 1324.7 1301.0 1327.6 1301.3C1330.5 1301.6 1333.6 1304.6 1337.1 1306.7C1340.5 1308.8 1345.4 1313.2 1348.3 1313.7C1351.2 1314.2 1352.2 1312.6 1354.6 1309.8C1357.0 1307.0 1359.8 1301.3 1362.5 1297.1C1365.2 1292.9 1367.8 1287.0 1370.5 1284.4C1373.2 1281.8 1375.8 1281.3 1378.4 1281.3C1381.0 1281.3 1383.9 1282.0 1386.3 1284.4C1388.7 1286.8 1390.3 1291.4 1392.7 1295.6C1395.1 1299.8 1398.2 1306.9 1400.6 1309.8C1403.0 1312.7 1404.6 1313.2 1407.0 1313.0C1409.4 1312.8 1412.2 1309.5 1414.9 1308.3C1417.6 1307.1 1420.2 1305.2 1422.9 1306.0C1425.6 1306.8 1428.2 1309.5 1430.8 1313.0C1433.4 1316.5 1436.0 1322.8 1438.7 1327.3C1441.4 1331.8 1444.3 1337.1 1446.7 1340.0C1449.1 1342.9 1450.9 1344.3 1453.0 1344.8C1455.1 1345.3 1457.3 1343.8 1459.4 1343.2C1461.5 1342.6 1463.6 1340.5 1465.7 1341.0C1467.8 1341.5 1469.7 1343.5 1472.1 1346.3C1474.5 1349.0 1477.4 1355.1 1480.0 1357.5C1482.6 1359.9 1485.0 1360.1 1487.9 1360.6C1490.8 1361.1 1494.3 1360.3 1497.5 1360.6C1500.7 1360.9 1503.8 1361.1 1507.0 1362.2C1510.2 1363.3 1513.3 1365.2 1516.5 1367.0C1519.7 1368.8 1522.8 1370.9 1526.0 1373.3C1529.2 1375.7 1532.7 1380.8 1535.6 1381.3C1538.5 1381.8 1541.1 1377.6 1543.5 1376.5C1545.9 1375.4 1547.7 1374.1 1549.8 1374.9C1551.9 1375.7 1554.3 1377.8 1556.2 1381.3C1558.1 1384.8 1558.9 1390.8 1561.0 1395.6C1563.1 1400.3 1566.0 1406.4 1568.9 1409.8C1571.8 1413.2 1575.8 1415.7 1578.4 1416.2C1581.1 1416.7 1582.4 1416.2 1584.8 1413.0C1587.2 1409.8 1590.1 1401.2 1592.7 1397.1C1595.3 1393.0 1597.9 1389.1 1600.6 1388.6C1603.2 1388.1 1605.7 1391.5 1608.6 1394.0C1611.5 1396.5 1614.9 1401.5 1618.1 1403.5C1621.3 1405.5 1624.4 1405.5 1627.6 1405.7C1630.8 1405.9 1634.2 1404.8 1637.1 1404.4C1640.0 1404.0 1643.8 1403.7 1645.1 1403.5" stroke="#ff9226" stroke-width="6.5" fill="none" stroke-linejoin="round" stroke-linecap="round"/>
<path d="M249.7 2050.2C250.6 2048.2 253.4 2041.7 255.4 2038.1C257.4 2034.5 259.1 2031.8 261.7 2028.6C264.3 2025.4 267.9 2022.7 271.3 2019.0C274.8 2015.3 278.7 2010.5 282.4 2006.3C286.1 2002.1 289.5 1998.7 293.5 1993.7C297.5 1988.7 302.5 1982.6 306.2 1976.2C309.9 1969.8 312.5 1962.8 315.7 1955.6C318.9 1948.4 322.0 1941.2 325.2 1933.3C328.4 1925.3 331.6 1916.9 334.8 1907.9C338.0 1898.9 341.1 1888.9 344.3 1879.4C347.5 1869.9 350.6 1859.8 353.8 1850.8C357.0 1841.8 360.1 1832.3 363.3 1825.4C366.5 1818.5 369.7 1813.7 372.9 1809.5C376.1 1805.3 379.8 1803.5 382.4 1800.0C385.0 1796.5 385.3 1792.4 388.7 1788.3C392.1 1784.2 398.8 1779.8 403.0 1775.6C407.2 1771.4 410.4 1766.4 414.1 1762.9C417.8 1759.5 421.5 1757.0 425.2 1754.9C428.9 1752.8 432.3 1751.4 436.3 1750.2C440.3 1749.0 444.5 1748.1 449.0 1747.9C453.5 1747.7 459.6 1748.0 463.3 1749.2C467.0 1750.4 468.4 1752.6 471.3 1754.9C474.2 1757.2 477.4 1760.5 480.8 1762.9C484.2 1765.3 488.2 1766.6 491.9 1769.2C495.6 1771.8 499.6 1775.5 503.0 1778.7C506.4 1781.9 509.3 1785.4 512.5 1788.3C515.7 1791.2 518.9 1793.8 522.1 1796.2C525.3 1798.6 528.2 1799.8 531.6 1802.5C535.0 1805.2 539.0 1809.4 542.7 1812.1C546.4 1814.8 549.8 1816.4 553.8 1818.4C557.8 1820.4 562.3 1822.2 566.5 1824.1C570.7 1825.9 575.5 1827.3 579.2 1829.5C582.9 1831.7 585.0 1834.2 588.7 1837.5C592.4 1840.8 596.6 1845.1 601.4 1849.2C606.2 1853.3 612.5 1859.0 617.3 1861.9C622.1 1864.8 625.8 1864.6 630.0 1866.7C634.2 1868.8 639.0 1872.8 642.7 1874.6C646.4 1876.4 649.0 1877.4 652.2 1877.8C655.4 1878.2 658.0 1876.5 661.7 1876.8C665.4 1877.1 670.7 1880.0 674.4 1879.4C678.1 1878.8 680.8 1875.9 684.0 1873.0C687.2 1870.1 690.3 1866.1 693.5 1861.9C696.7 1857.7 700.2 1851.6 703.0 1847.6C705.8 1843.6 708.4 1840.7 710.0 1838.1C711.6 1835.5 710.1 1835.8 712.7 1832.1C715.3 1828.4 721.2 1821.5 725.4 1816.2C729.6 1810.9 734.4 1803.7 738.1 1800.3C741.8 1796.9 744.4 1797.4 747.6 1795.6C750.8 1793.8 753.9 1791.6 757.1 1789.2C760.3 1786.8 763.0 1783.8 766.7 1781.3C770.4 1778.8 775.2 1776.7 779.4 1774.3C783.6 1771.9 787.9 1769.7 792.1 1767.0C796.3 1764.3 800.6 1760.9 804.8 1758.4C809.0 1755.9 813.3 1754.4 817.5 1752.1C821.7 1749.8 826.0 1747.9 830.2 1744.8C834.4 1741.7 838.7 1737.4 842.9 1733.7C847.1 1730.0 851.9 1726.7 855.6 1722.5C859.3 1718.3 861.9 1712.8 865.1 1708.3C868.3 1703.8 871.7 1698.8 874.6 1695.6C877.5 1692.4 879.9 1690.5 882.5 1689.2C885.1 1687.9 887.6 1688.6 890.5 1687.6C893.4 1686.5 897.4 1684.8 900.0 1682.9C902.6 1681.1 903.6 1680.2 906.3 1676.5C908.9 1672.8 912.7 1666.1 915.9 1660.6C919.1 1655.0 922.2 1649.0 925.4 1643.2C928.6 1637.4 931.7 1631.5 934.9 1625.7C938.1 1619.9 941.2 1613.6 944.4 1608.3C947.6 1603.0 950.3 1599.3 954.0 1594.0C957.7 1588.7 962.5 1582.3 966.7 1576.5C970.9 1570.7 975.2 1564.3 979.4 1559.0C983.6 1553.7 987.9 1549.7 992.1 1544.8C996.3 1539.9 1000.6 1534.1 1004.8 1529.8C1009.0 1525.5 1013.3 1521.9 1017.5 1518.7C1021.7 1515.5 1026.5 1513.2 1030.2 1510.8C1033.9 1508.4 1036.5 1507.3 1039.7 1504.4C1042.9 1501.5 1046.0 1495.9 1049.2 1493.3C1052.4 1490.7 1055.0 1489.6 1058.7 1488.6C1062.4 1487.5 1066.6 1487.5 1071.4 1487.0C1076.2 1486.5 1083.1 1486.5 1087.3 1485.4C1091.5 1484.3 1093.9 1481.9 1096.8 1480.6C1099.7 1479.3 1102.1 1477.5 1104.8 1477.5C1107.5 1477.5 1110.1 1479.7 1112.7 1480.6C1115.3 1481.5 1117.9 1482.9 1120.6 1482.9C1123.2 1482.9 1125.1 1482.3 1128.6 1480.6C1132.0 1478.9 1137.1 1475.6 1141.3 1472.7C1145.5 1469.8 1149.8 1466.4 1154.0 1463.2C1158.2 1460.0 1163.3 1455.6 1166.7 1453.7C1170.1 1451.8 1172.4 1452.1 1174.6 1452.1C1176.8 1452.1 1177.5 1452.7 1180.0 1453.7C1182.5 1454.8 1186.3 1457.8 1189.5 1458.4C1192.7 1459.0 1195.8 1457.3 1199.0 1457.5C1202.2 1457.7 1205.4 1458.7 1208.6 1459.7C1211.8 1460.8 1214.9 1461.5 1218.1 1463.8C1221.3 1466.1 1224.4 1468.8 1227.6 1473.3C1230.8 1477.8 1233.9 1484.4 1237.1 1490.8C1240.3 1497.2 1243.5 1506.1 1246.7 1511.4C1249.9 1516.7 1253.0 1519.2 1256.2 1522.5C1259.4 1525.8 1262.5 1529.0 1265.7 1531.4C1268.9 1533.8 1272.6 1535.9 1275.2 1536.8C1277.8 1537.7 1279.2 1537.6 1281.6 1536.8C1284.0 1536.0 1286.8 1533.4 1289.5 1532.1C1292.2 1530.8 1294.6 1529.2 1297.5 1528.9C1300.4 1528.6 1303.8 1530.2 1307.0 1530.5C1310.2 1530.8 1313.3 1530.9 1316.5 1530.5C1319.7 1530.1 1322.6 1528.8 1326.0 1528.3C1329.4 1527.8 1333.6 1528.5 1337.1 1527.3C1340.5 1526.1 1343.8 1523.0 1346.7 1521.0C1349.6 1519.0 1352.0 1516.4 1354.6 1515.6C1357.2 1514.8 1359.8 1515.6 1362.5 1516.2C1365.2 1516.8 1367.6 1518.6 1370.5 1519.4C1373.4 1520.2 1376.8 1520.0 1380.0 1521.0C1383.2 1522.0 1386.3 1524.4 1389.5 1525.7C1392.7 1527.0 1395.8 1529.0 1399.0 1528.9C1402.2 1528.8 1405.4 1525.9 1408.6 1525.1C1411.8 1524.3 1414.4 1523.8 1418.1 1524.1C1421.8 1524.4 1427.1 1525.8 1430.8 1526.7C1434.5 1527.6 1437.4 1527.8 1440.3 1529.5C1443.2 1531.2 1445.6 1534.0 1448.3 1537.1C1451.0 1540.2 1453.6 1545.1 1456.2 1548.3C1458.8 1551.5 1461.2 1554.2 1464.1 1556.2C1467.0 1558.2 1470.5 1558.8 1473.7 1560.0C1476.9 1561.2 1480.0 1561.2 1483.2 1563.2C1486.4 1565.2 1489.8 1568.0 1492.7 1572.1C1495.6 1576.2 1497.9 1582.4 1500.6 1587.9C1503.2 1593.5 1505.9 1600.4 1508.6 1605.4C1511.2 1610.4 1513.9 1614.7 1516.5 1618.1C1519.1 1621.5 1522.0 1624.2 1524.4 1626.0C1526.8 1627.8 1528.4 1628.9 1530.8 1628.6C1533.2 1628.3 1536.0 1625.5 1538.7 1624.4C1541.4 1623.3 1544.1 1621.4 1546.7 1622.2C1549.3 1623.0 1551.7 1625.7 1554.6 1629.2C1557.5 1632.8 1560.9 1639.0 1564.1 1643.5C1567.3 1648.0 1570.8 1653.4 1573.7 1656.2C1576.6 1659.0 1578.7 1659.4 1581.6 1660.3C1584.5 1661.2 1588.2 1660.4 1591.1 1661.6C1594.0 1662.8 1596.3 1665.4 1599.0 1667.3C1601.7 1669.2 1604.3 1673.5 1607.0 1673.0C1609.7 1672.5 1612.5 1666.9 1614.9 1664.1C1617.3 1661.3 1619.2 1656.7 1621.3 1656.2C1623.4 1655.7 1625.5 1660.0 1627.6 1661.0C1629.7 1662.0 1631.9 1664.1 1634.0 1662.5C1636.1 1660.9 1638.5 1656.4 1640.3 1651.4C1642.1 1646.4 1644.3 1635.6 1645.1 1632.4" stroke="#0693d8" stroke-width="6.5" fill="none" stroke-linejoin="round" stroke-linecap="round"/>
<path d="M249.7 2109.5C250.6 2107.7 252.9 2101.6 255.4 2098.4C257.9 2095.2 261.2 2094.5 264.9 2090.5C268.6 2086.5 273.6 2079.4 277.6 2074.6C281.6 2069.8 285.2 2066.9 288.7 2061.9C292.1 2056.9 295.1 2051.0 298.3 2044.4C301.5 2037.8 304.9 2030.1 307.8 2022.2C310.7 2014.3 313.1 2005.8 315.7 1996.8C318.3 1987.8 321.0 1978.9 323.7 1968.3C326.4 1957.7 329.0 1946.0 331.6 1933.3C334.2 1920.6 337.1 1905.3 339.5 1892.1C341.9 1878.9 343.8 1866.2 345.9 1854.0C348.0 1841.8 350.3 1828.0 352.2 1819.0C354.1 1810.0 355.9 1805.9 357.0 1800.0C358.1 1794.1 357.0 1791.0 358.6 1783.5C360.2 1776.0 363.9 1763.9 366.5 1754.9C369.1 1745.9 371.8 1735.3 374.4 1729.5C377.0 1723.7 379.2 1722.9 382.4 1720.0C385.6 1717.1 389.8 1715.0 393.5 1712.1C397.2 1709.2 400.9 1704.9 404.6 1702.5C408.3 1700.1 412.5 1700.7 415.7 1697.8C418.9 1694.9 420.8 1689.3 423.7 1685.1C426.6 1680.9 430.3 1676.0 433.2 1672.4C436.1 1668.8 438.5 1665.1 441.1 1663.5C443.7 1661.9 446.4 1662.2 449.0 1662.9C451.6 1663.6 454.1 1664.7 457.0 1667.6C459.9 1670.5 462.8 1676.3 466.5 1680.3C470.2 1684.3 474.7 1688.4 479.2 1691.4C483.7 1694.4 489.0 1696.8 493.5 1698.4C498.0 1700.0 502.8 1700.3 506.2 1701.0C509.6 1701.7 511.5 1700.9 514.1 1702.5C516.8 1704.1 519.2 1707.0 522.1 1710.5C525.0 1714.0 527.9 1718.7 531.6 1723.2C535.3 1727.7 540.1 1733.3 544.3 1737.5C548.5 1741.7 552.5 1744.6 557.0 1748.6C561.5 1752.6 566.5 1757.3 571.3 1761.3C576.1 1765.3 581.6 1769.2 585.6 1772.4C589.6 1775.6 591.9 1777.9 595.1 1780.3C598.3 1782.7 601.4 1784.6 604.6 1786.7C607.8 1788.8 610.9 1793.0 614.1 1793.0C617.3 1793.0 620.5 1788.5 623.7 1786.7C626.9 1784.9 630.0 1781.9 633.2 1781.9C636.4 1781.9 639.5 1783.8 642.7 1786.7C645.9 1789.6 649.0 1796.0 652.2 1799.4C655.4 1802.8 658.8 1806.0 661.7 1807.3C664.6 1808.6 667.1 1807.8 669.7 1807.3C672.4 1806.8 675.0 1805.0 677.6 1804.1C680.2 1803.2 682.4 1802.0 685.6 1801.9C688.8 1801.8 692.6 1803.2 696.7 1803.5C700.8 1803.8 706.3 1804.3 710.0 1803.5C713.7 1802.7 715.9 1800.4 719.0 1798.7C722.1 1797.0 725.4 1794.3 728.6 1793.3C731.8 1792.2 734.9 1793.4 738.1 1792.4C741.3 1791.5 744.4 1789.7 747.6 1787.6C750.8 1785.5 753.9 1782.1 757.1 1779.7C760.3 1777.3 763.0 1775.2 766.7 1773.3C770.4 1771.4 775.2 1770.2 779.4 1768.6C783.6 1767.0 787.9 1765.9 792.1 1763.8C796.3 1761.7 800.6 1758.3 804.8 1755.9C809.0 1753.5 813.3 1751.9 817.5 1749.5C821.7 1747.1 826.0 1745.0 830.2 1741.6C834.4 1738.2 838.7 1732.6 842.9 1728.9C847.1 1725.2 851.4 1722.8 855.6 1719.4C859.8 1716.0 864.1 1711.8 868.3 1708.3C872.5 1704.8 877.3 1701.3 881.0 1698.7C884.7 1696.1 887.3 1694.5 890.5 1692.4C893.7 1690.3 897.4 1688.1 900.0 1686.0C902.6 1683.9 903.6 1683.4 906.3 1679.7C908.9 1676.0 912.7 1669.4 915.9 1663.8C919.1 1658.2 922.2 1652.4 925.4 1646.3C928.6 1640.2 931.7 1633.9 934.9 1627.3C938.1 1620.7 941.2 1612.5 944.4 1606.7C947.6 1600.9 950.3 1598.2 954.0 1592.4C957.7 1586.6 963.0 1577.8 966.7 1571.7C970.4 1565.6 973.3 1561.2 976.2 1555.9C979.1 1550.6 982.0 1543.5 984.1 1540.0C986.2 1536.5 986.0 1537.3 988.9 1534.6C991.8 1531.8 997.4 1528.0 1001.6 1523.5C1005.8 1519.0 1010.1 1512.6 1014.3 1507.6C1018.5 1502.6 1023.3 1498.1 1027.0 1493.3C1030.7 1488.5 1033.3 1483.5 1036.5 1479.0C1039.7 1474.5 1042.3 1470.0 1046.0 1466.3C1049.7 1462.6 1054.5 1459.2 1058.7 1456.8C1062.9 1454.4 1067.2 1453.0 1071.4 1452.1C1075.6 1451.1 1079.9 1451.4 1084.1 1451.1C1088.3 1450.8 1093.1 1450.7 1096.8 1450.5C1100.5 1450.3 1103.1 1449.5 1106.3 1449.8C1109.5 1450.1 1113.0 1451.4 1115.9 1452.1C1118.8 1452.8 1121.2 1454.0 1123.8 1453.7C1126.4 1453.4 1128.3 1451.7 1131.7 1450.5C1135.1 1449.3 1140.2 1447.9 1144.4 1446.7C1148.6 1445.5 1152.9 1444.2 1157.1 1443.5C1161.3 1442.8 1166.0 1442.1 1169.8 1442.5C1173.6 1442.9 1176.7 1444.5 1180.0 1445.7C1183.3 1446.9 1186.3 1447.9 1189.5 1449.5C1192.7 1451.1 1195.8 1453.9 1199.0 1455.2C1202.2 1456.5 1205.4 1456.6 1208.6 1457.5C1211.8 1458.4 1214.9 1458.5 1218.1 1460.6C1221.3 1462.7 1224.4 1466.2 1227.6 1470.2C1230.8 1474.2 1233.9 1479.7 1237.1 1484.4C1240.3 1489.2 1243.5 1494.7 1246.7 1498.7C1249.9 1502.7 1253.0 1505.8 1256.2 1508.3C1259.4 1510.8 1262.5 1512.3 1265.7 1513.7C1268.9 1515.1 1272.0 1516.1 1275.2 1516.8C1278.4 1517.5 1281.3 1517.8 1284.8 1517.8C1288.2 1517.8 1292.2 1516.6 1295.9 1516.8C1299.6 1517.0 1303.8 1518.7 1307.0 1518.7C1310.2 1518.7 1311.7 1518.0 1314.9 1516.8C1318.1 1515.6 1322.3 1512.8 1326.0 1511.4C1329.7 1510.0 1333.6 1510.0 1337.1 1508.3C1340.5 1506.6 1343.8 1503.0 1346.7 1501.0C1349.6 1499.0 1351.7 1497.2 1354.6 1496.5C1357.5 1495.8 1361.2 1496.2 1364.1 1497.1C1367.0 1498.0 1369.2 1500.3 1372.1 1501.9C1375.0 1503.5 1378.4 1506.9 1381.6 1506.7C1384.8 1506.5 1388.2 1502.7 1391.1 1501.0C1394.0 1499.3 1396.6 1496.7 1399.0 1496.5C1401.4 1496.3 1403.0 1499.1 1405.4 1499.7C1407.8 1500.3 1410.7 1501.0 1413.3 1500.3C1415.9 1499.6 1418.6 1496.6 1421.3 1495.6C1424.0 1494.5 1426.6 1493.6 1429.2 1494.0C1431.8 1494.4 1434.2 1496.5 1437.1 1497.8C1440.0 1499.1 1443.8 1499.6 1446.7 1501.9C1449.6 1504.2 1452.0 1508.0 1454.6 1511.7C1457.2 1515.5 1459.3 1521.0 1462.5 1524.4C1465.7 1527.9 1470.0 1528.7 1473.7 1532.4C1477.4 1536.1 1480.8 1541.7 1484.8 1546.7C1488.8 1551.7 1493.8 1557.2 1497.5 1562.5C1501.2 1567.8 1503.8 1573.1 1507.0 1578.4C1510.2 1583.7 1513.6 1590.5 1516.5 1594.3C1519.4 1598.1 1522.0 1600.0 1524.4 1601.3C1526.8 1602.6 1528.4 1603.1 1530.8 1602.2C1533.2 1601.3 1536.0 1598.2 1538.7 1595.9C1541.4 1593.6 1544.1 1589.9 1546.7 1588.6C1549.3 1587.3 1552.0 1586.7 1554.6 1587.9C1557.2 1589.1 1559.8 1593.0 1562.5 1595.9C1565.2 1598.8 1568.1 1603.7 1570.5 1605.4C1572.9 1607.1 1574.4 1607.1 1576.8 1606.3C1579.2 1605.5 1582.1 1602.0 1584.8 1600.6C1587.5 1599.2 1590.1 1598.4 1592.7 1598.1C1595.3 1597.8 1598.2 1597.8 1600.6 1599.0C1603.0 1600.2 1604.9 1601.4 1607.0 1605.4C1609.1 1609.4 1611.2 1616.6 1613.3 1622.9C1615.4 1629.2 1617.6 1638.3 1619.7 1643.5C1621.8 1648.7 1623.9 1653.2 1626.0 1654.0C1628.1 1654.8 1630.3 1652.4 1632.4 1648.3C1634.5 1644.2 1636.6 1634.8 1638.7 1629.2C1640.8 1623.6 1644.0 1617.3 1645.1 1614.9" stroke="#00ba4e" stroke-width="6.5" fill="none" stroke-linejoin="round" stroke-linecap="round"/>
<path d="M309.3 2151.4v12.5M476.4 2151.4v12.5M643.4 2151.4v12.5M810.5 2151.4v12.5M977.5 2151.4v12.5M1144.5 2151.4v12.5M1311.6 2151.4v12.5M1478.7 2151.4v12.5M1645.7 2151.4v12.5M240.7 1279.8h-15M240.7 1392.5h-15M240.7 1505.3h-15M240.7 1618.0h-15M240.7 1730.8h-15M240.7 1843.5h-15M240.7 1956.2h-15M240.7 2069.0h-15" stroke="#666666" stroke-width="4.2" fill="none"/>
<path d="M238.2 1242.9H1648.2M238.2 2151.4H1648.2" fill="none" stroke="#6c6c6c" stroke-width="5.0"/>
<path d="M240.7 1242.9V2151.4M1645.7 1242.9V2151.4" fill="none" stroke="#606060" stroke-width="5.0"/>
</g>
<g filter="url(#bt)">
<text transform="translate(305.8,2206.0) scale(1.0600,0.9800)" font-family='"DejaVu Sans","Liberation Sans",sans-serif' font-size="36.5" text-anchor="middle" fill="#383838" stroke="#383838" stroke-width="1.0">500</text>
<text transform="translate(472.9,2206.0) scale(1.0600,0.9800)" font-family='"DejaVu Sans","Liberation Sans",sans-serif' font-size="36.5" text-anchor="middle" fill="#383838" stroke="#383838" stroke-width="1.0">750</text>
<text transform="translate(643.4,2206.0) scale(1.0600,0.9800)" font-family='"DejaVu Sans","Liberation Sans",sans-serif' font-size="36.5" text-anchor="middle" fill="#383838" stroke="#383838" stroke-width="1.0">1000</text>
<text transform="translate(810.5,2206.0) scale(1.0600,0.9800)" font-family='"DejaVu Sans","Liberation Sans",sans-serif' font-size="36.5" text-anchor="middle" fill="#383838" stroke="#383838" stroke-width="1.0">1250</text>
<text transform="translate(977.5,2206.0) scale(1.0600,0.9800)" font-family='"DejaVu Sans","Liberation Sans",sans-serif' font-size="36.5" text-anchor="middle" fill="#383838" stroke="#383838" stroke-width="1.0">1500</text>
<text transform="translate(1144.5,2206.0) scale(1.0600,0.9800)" font-family='"DejaVu Sans","Liberation Sans",sans-serif' font-size="36.5" text-anchor="middle" fill="#383838" stroke="#383838" stroke-width="1.0">1750</text>
<text transform="translate(1311.6,2206.0) scale(1.0600,0.9800)" font-family='"DejaVu Sans","Liberation Sans",sans-serif' font-size="36.5" text-anchor="middle" fill="#383838" stroke="#383838" stroke-width="1.0">2000</text>
<text transform="translate(1478.7,2206.0) scale(1.0600,0.9800)" font-family='"DejaVu Sans","Liberation Sans",sans-serif' font-size="36.5" text-anchor="middle" fill="#383838" stroke="#383838" stroke-width="1.0">2250</text>
<text transform="translate(1645.7,2206.0) scale(1.0600,0.9800)" font-family='"DejaVu Sans","Liberation Sans",sans-serif' font-size="36.5" text-anchor="middle" fill="#383838" stroke="#383838" stroke-width="1.0">2500</text>
<text transform="translate(209.5,1294.3) scale(1.0600,0.9800)" font-family='"DejaVu Sans","Liberation Sans",sans-serif' font-size="36.5" text-anchor="end" fill="#383838" stroke="#383838" stroke-width="1.0">1800</text>
<text transform="translate(209.5,1407.0) scale(1.0600,0.9800)" font-family='"DejaVu Sans","Liberation Sans",sans-serif' font-size="36.5" text-anchor="end" fill="#383838" stroke="#383838" stroke-width="1.0">1600</text>
<text transform="translate(209.5,1519.8) scale(1.0600,0.9800)" font-family='"DejaVu Sans","Liberation Sans",sans-serif' font-size="36.5" text-anchor="end" fill="#383838" stroke="#383838" stroke-width="1.0">1400</text>
<text transform="translate(209.5,1632.5) scale(1.0600,0.9800)" font-family='"DejaVu Sans","Liberation Sans",sans-serif' font-size="36.5" text-anchor="end" fill="#383838" stroke="#383838" stroke-width="1.0">1200</text>
<text transform="translate(209.5,1745.3) scale(1.0600,0.9800)" font-family='"DejaVu Sans","Liberation Sans",sans-serif' font-size="36.5" text-anchor="end" fill="#383838" stroke="#383838" stroke-width="1.0">1000</text>
<text transform="translate(209.5,1858.0) scale(1.0600,0.9800)" font-family='"DejaVu Sans","Liberation Sans",sans-serif' font-size="36.5" text-anchor="end" fill="#383838" stroke="#383838" stroke-width="1.0">800</text>
<text transform="translate(209.5,1970.7) scale(1.0600,0.9800)" font-family='"DejaVu Sans","Liberation Sans",sans-serif' font-size="36.5" text-anchor="end" fill="#383838" stroke="#383838" stroke-width="1.0">600</text>
<text transform="translate(209.5,2083.5) scale(1.0600,0.9800)" font-family='"DejaVu Sans","Liberation Sans",sans-serif' font-size="36.5" text-anchor="end" fill="#383838" stroke="#383838" stroke-width="1.0">400</text>
<text transform="translate(943.9,2251.0) scale(1.0800,0.8570)" font-family='"DejaVu Sans","Liberation Sans",sans-serif' font-size="36.5" text-anchor="middle" fill="#383838" stroke="#383838" stroke-width="1.0">Wavelength [nm]</text>
<text transform="translate(943.9,1222.5) scale(1.2000,0.8800)" font-family='"DejaVu Sans","Liberation Sans",sans-serif' font-size="42" text-anchor="middle" fill="#383838" stroke="#383838" stroke-width="1.0">Dunite</text>
<text transform="translate(82.4,1701.4) rotate(-90) scale(0.9570,1.0900)" font-family='"DejaVu Sans","Liberation Sans",sans-serif' font-size="36" text-anchor="middle" fill="#383838" stroke="#383838" stroke-width="1.0">Reflectance [%] * 100</text>
<text transform="translate(1588.0,1322.8) scale(0.8300,1.0000)" font-family='"Liberation Sans",sans-serif' font-size="78" text-anchor="middle" fill="#0a0a0a">B</text>
<text transform="translate(1675.0,1305.8) scale(1.0500,1.0000)" font-family='"Liberation Sans",sans-serif' font-size="60" text-anchor="start" fill="#4bae4f">dunite01</text>
<text transform="translate(1679.0,1385.8) scale(1.0500,1.0000)" font-family='"Liberation Sans",sans-serif' font-size="60" text-anchor="start" fill="#2f78c8">dunite02</text>
<text transform="translate(1679.0,1464.2) scale(1.0500,1.0000)" font-family='"Liberation Sans",sans-serif' font-size="60" text-anchor="start" fill="#fa7d3c">dunite03</text>
</g>
</g>
<g id="plotC">
<g filter="url(#bl)">
<path d="M309.3 2318.5V3228.4M476.4 2318.5V3228.4M643.4 2318.5V3228.4M810.5 2318.5V3228.4M977.5 2318.5V3228.4M1144.5 2318.5V3228.4M1311.6 2318.5V3228.4M1478.7 2318.5V3228.4" stroke="rgba(0,0,0,0.125)" stroke-width="5" fill="none"/>
<path d="M240.7 2402.3H1645.7M240.7 2520.9H1645.7M240.7 2639.4H1645.7M240.7 2758.0H1645.7M240.7 2876.5H1645.7M240.7 2995.1H1645.7M240.7 3113.6H1645.7" stroke="rgba(0,0,0,0.15)" stroke-width="5.4" fill="none"/>
<path d="M249.0 3185.7C250.6 3184.4 255.4 3179.7 258.6 3177.8C261.8 3176.0 264.9 3175.9 268.1 3174.6C271.3 3173.3 273.9 3171.9 277.6 3169.8C281.3 3167.7 286.3 3164.8 290.3 3161.9C294.3 3159.0 297.7 3155.8 301.4 3152.4C305.1 3149.0 309.1 3144.2 312.5 3141.3C315.9 3138.4 318.9 3137.3 322.1 3134.9C325.3 3132.5 328.2 3130.2 331.6 3127.0C335.0 3123.8 339.0 3119.1 342.7 3115.9C346.4 3112.7 349.8 3110.3 353.8 3107.9C357.8 3105.5 362.3 3104.2 366.5 3101.6C370.7 3099.0 375.5 3094.8 379.2 3092.1C382.9 3089.4 384.7 3087.7 388.7 3085.7C392.7 3083.7 398.8 3082.1 403.0 3080.3C407.2 3078.6 410.9 3076.6 414.1 3075.2C417.3 3073.8 419.5 3072.2 422.1 3072.1C424.8 3072.0 427.1 3074.3 430.0 3074.6C432.9 3074.9 435.8 3075.1 439.5 3074.0C443.2 3072.9 448.0 3069.8 452.2 3068.3C456.4 3066.8 460.7 3065.9 464.9 3065.1C469.1 3064.3 473.9 3064.6 477.6 3063.5C481.3 3062.4 484.2 3060.2 487.1 3058.7C490.0 3057.2 491.9 3055.4 495.1 3054.6C498.3 3053.8 501.7 3053.9 506.2 3054.0C510.7 3054.1 517.6 3055.0 522.1 3054.9C526.6 3054.8 529.8 3053.1 533.2 3053.3C536.6 3053.5 539.8 3055.3 542.7 3056.2C545.6 3057.1 547.7 3058.2 550.6 3058.7C553.5 3059.2 556.8 3059.7 560.2 3059.4C563.7 3059.1 567.6 3056.4 571.3 3057.1C575.0 3057.8 578.4 3062.7 582.4 3063.5C586.4 3064.3 590.9 3061.9 595.1 3061.9C599.3 3061.9 603.6 3064.6 607.8 3063.5C612.0 3062.4 616.3 3058.1 620.5 3055.6C624.7 3053.1 629.0 3050.5 633.2 3048.6C637.4 3046.7 641.1 3045.6 645.9 3044.4C650.6 3043.2 656.4 3042.1 661.7 3041.3C667.0 3040.5 672.8 3040.6 677.6 3039.7C682.4 3038.8 686.1 3037.5 690.3 3035.9C694.5 3034.3 699.7 3031.7 703.0 3030.2C706.3 3028.7 707.3 3027.4 710.0 3027.0C712.7 3026.6 715.4 3027.7 719.0 3027.6C722.6 3027.5 726.9 3027.4 731.7 3026.7C736.5 3026.0 742.8 3024.8 747.6 3023.5C752.4 3022.2 756.1 3020.0 760.3 3018.7C764.5 3017.4 768.8 3016.4 773.0 3015.6C777.2 3014.8 782.0 3015.1 785.7 3014.0C789.4 3012.9 792.0 3011.0 795.2 3009.2C798.4 3007.3 801.6 3004.5 804.8 3002.9C808.0 3001.3 810.6 3000.5 814.3 2999.7C818.0 2998.9 822.8 2998.9 827.0 2998.1C831.2 2997.3 834.9 2996.0 839.7 2994.9C844.5 2993.8 851.4 2993.0 855.6 2991.7C859.8 2990.4 861.9 2988.8 865.1 2987.0C868.3 2985.2 872.0 2981.9 874.6 2980.6C877.2 2979.3 878.4 2979.0 881.0 2979.0C883.6 2979.0 887.3 2980.1 890.5 2980.6C893.7 2981.1 896.8 2982.3 900.0 2982.2C903.2 2982.1 906.3 2981.3 909.5 2980.0C912.7 2978.7 915.8 2976.1 919.0 2974.3C922.2 2972.6 925.4 2970.3 928.6 2969.5C931.8 2968.7 934.9 2970.0 938.1 2969.5C941.3 2969.0 943.9 2967.9 947.6 2966.3C951.3 2964.7 956.1 2961.7 960.3 2960.0C964.5 2958.3 968.8 2957.8 973.0 2956.2C977.2 2954.6 981.5 2952.5 985.7 2950.5C989.9 2948.5 993.6 2946.1 998.4 2944.1C1003.2 2942.1 1009.0 2940.6 1014.3 2938.7C1019.6 2936.8 1025.4 2934.3 1030.2 2932.4C1035.0 2930.5 1039.2 2928.2 1042.9 2927.3C1046.6 2926.5 1049.2 2927.4 1052.4 2927.3C1055.6 2927.2 1058.2 2927.4 1061.9 2926.7C1065.6 2926.0 1070.4 2924.5 1074.6 2922.9C1078.8 2921.3 1083.1 2919.2 1087.3 2917.1C1091.5 2915.0 1095.8 2912.6 1100.0 2910.2C1104.2 2907.8 1109.3 2904.8 1112.7 2902.9C1116.1 2901.0 1117.7 2899.2 1120.6 2898.7C1123.5 2898.2 1127.0 2899.4 1130.2 2899.7C1133.4 2900.0 1136.3 2901.0 1139.7 2900.6C1143.1 2900.2 1146.8 2898.3 1150.8 2897.5C1154.8 2896.7 1159.8 2896.0 1163.5 2895.9C1167.2 2895.8 1170.2 2896.5 1173.0 2897.1C1175.8 2897.7 1177.2 2899.6 1180.0 2899.7C1182.8 2899.8 1186.3 2898.7 1189.5 2897.8C1192.7 2897.0 1195.3 2895.0 1199.0 2894.6C1202.7 2894.2 1208.0 2895.2 1211.7 2895.2C1215.4 2895.2 1218.1 2894.8 1221.3 2894.6C1224.5 2894.3 1227.9 2893.2 1230.8 2893.7C1233.7 2894.2 1235.8 2896.0 1238.7 2897.8C1241.6 2899.7 1244.8 2903.0 1248.3 2904.8C1251.8 2906.7 1255.7 2907.6 1259.4 2908.9C1263.1 2910.2 1267.3 2912.1 1270.5 2912.7C1273.7 2913.3 1275.5 2913.8 1278.4 2912.7C1281.3 2911.6 1284.5 2908.8 1287.9 2906.3C1291.3 2903.8 1295.3 2900.2 1299.0 2897.8C1302.7 2895.4 1306.8 2893.3 1310.2 2892.1C1313.7 2890.9 1316.5 2891.0 1319.7 2890.5C1322.9 2890.0 1326.0 2889.8 1329.2 2888.9C1332.4 2888.0 1335.5 2886.7 1338.7 2885.1C1341.9 2883.5 1345.1 2881.0 1348.3 2879.4C1351.5 2877.8 1354.1 2876.6 1357.8 2875.6C1361.5 2874.6 1366.3 2874.1 1370.5 2873.7C1374.7 2873.3 1379.0 2873.4 1383.2 2873.0C1387.4 2872.6 1392.2 2871.1 1395.9 2871.4C1399.6 2871.7 1402.5 2873.7 1405.4 2874.6C1408.3 2875.5 1410.4 2877.2 1413.3 2877.1C1416.2 2876.9 1419.7 2875.3 1422.9 2873.7C1426.1 2872.1 1429.2 2868.7 1432.4 2867.3C1435.6 2865.9 1439.0 2865.3 1441.9 2865.1C1444.8 2864.9 1447.2 2864.7 1449.8 2866.0C1452.4 2867.3 1455.1 2870.3 1457.8 2873.0C1460.5 2875.7 1463.0 2879.2 1465.7 2881.9C1468.4 2884.6 1470.8 2886.8 1473.7 2888.9C1476.6 2891.0 1480.3 2892.5 1483.2 2894.6C1486.1 2896.7 1488.5 2897.8 1491.1 2901.6C1493.7 2905.4 1496.3 2912.2 1499.0 2917.5C1501.7 2922.8 1504.6 2929.7 1507.0 2933.3C1509.4 2936.9 1510.4 2937.2 1513.3 2939.0C1516.2 2940.8 1521.2 2942.4 1524.4 2944.4C1527.6 2946.4 1529.8 2948.5 1532.4 2950.8C1535.1 2953.1 1537.4 2956.3 1540.3 2958.1C1543.2 2959.8 1546.3 2961.5 1549.8 2961.3C1553.2 2961.1 1557.3 2958.2 1561.0 2957.1C1564.7 2956.0 1568.4 2954.9 1572.1 2954.9C1575.8 2954.9 1580.0 2956.7 1583.2 2957.1C1586.4 2957.5 1588.2 2957.6 1591.1 2957.1C1594.0 2956.6 1597.4 2954.0 1600.6 2954.0C1603.8 2954.0 1606.8 2955.8 1610.2 2957.1C1613.7 2958.4 1617.9 2960.2 1621.3 2961.9C1624.7 2963.7 1627.9 2965.8 1630.8 2967.6C1633.7 2969.4 1636.3 2971.6 1638.7 2973.0C1641.1 2974.4 1644.0 2975.7 1645.1 2976.2" stroke="#ff9226" stroke-width="6.5" fill="none" stroke-linejoin="round" stroke-linecap="round"/>
<path d="M249.7 3134.9C250.6 3132.8 253.7 3125.4 255.4 3122.2C257.1 3119.0 258.1 3117.8 260.2 3115.9C262.3 3114.1 265.2 3113.8 268.1 3111.1C271.0 3108.4 274.4 3104.2 277.6 3100.0C280.8 3095.8 283.9 3090.2 287.1 3085.7C290.3 3081.2 293.5 3076.7 296.7 3073.0C299.9 3069.3 303.0 3067.7 306.2 3063.5C309.4 3059.3 312.5 3052.6 315.7 3047.6C318.9 3042.6 322.0 3038.6 325.2 3033.3C328.4 3028.0 331.4 3021.5 334.8 3015.9C338.2 3010.3 342.2 3005.0 345.9 3000.0C349.6 2995.0 353.6 2990.7 357.0 2985.7C360.4 2980.7 363.3 2974.6 366.5 2969.8C369.7 2965.0 372.8 2961.1 376.0 2957.1C379.2 2953.1 382.4 2950.2 385.6 2946.0C388.8 2941.8 391.9 2935.7 395.1 2931.7C398.3 2927.7 401.2 2925.4 404.6 2922.2C408.0 2919.0 412.5 2915.9 415.7 2912.7C418.9 2909.5 420.8 2906.5 423.7 2903.2C426.6 2899.9 430.0 2895.0 433.2 2893.0C436.4 2891.0 439.8 2892.2 442.7 2891.4C445.6 2890.6 448.0 2890.4 450.6 2888.3C453.2 2886.2 455.7 2881.3 458.6 2878.7C461.5 2876.0 465.2 2874.8 468.1 2872.4C471.0 2870.0 473.4 2867.1 476.0 2864.4C478.6 2861.8 481.1 2858.3 484.0 2856.5C486.9 2854.7 490.3 2855.4 493.5 2853.3C496.7 2851.2 499.8 2846.7 503.0 2843.8C506.2 2840.9 509.3 2838.0 512.5 2835.9C515.7 2833.8 518.6 2831.7 522.1 2831.1C525.6 2830.5 529.8 2832.8 533.2 2832.1C536.6 2831.4 539.5 2828.6 542.7 2827.0C545.9 2825.4 549.0 2823.0 552.2 2822.5C555.4 2822.0 558.2 2823.3 561.7 2823.8C565.2 2824.3 569.5 2825.3 572.9 2825.7C576.3 2826.1 579.5 2826.8 582.4 2826.3C585.3 2825.8 587.4 2824.6 590.3 2822.5C593.2 2820.4 596.6 2816.5 599.8 2813.7C603.0 2810.9 606.2 2807.6 609.4 2805.7C612.6 2803.8 615.5 2803.0 618.9 2802.5C622.3 2802.0 626.6 2803.4 630.0 2802.5C633.4 2801.6 636.6 2798.7 639.5 2797.1C642.4 2795.5 644.6 2793.7 647.5 2793.0C650.4 2792.3 654.1 2793.8 657.0 2793.0C659.9 2792.2 662.2 2789.5 664.9 2788.3C667.5 2787.1 670.2 2785.5 672.9 2786.0C675.5 2786.5 677.9 2789.2 680.8 2791.4C683.7 2793.6 687.1 2797.6 690.3 2799.4C693.5 2801.2 696.5 2802.5 699.8 2802.5C703.1 2802.5 706.8 2800.8 710.0 2799.4C713.2 2798.0 715.4 2794.8 719.0 2794.0C722.6 2793.2 727.5 2794.9 731.7 2794.6C735.9 2794.3 740.7 2793.0 744.4 2792.4C748.1 2791.8 750.3 2790.8 754.0 2790.8C757.7 2790.8 763.0 2793.1 766.7 2792.4C770.4 2791.7 773.0 2788.3 776.2 2786.7C779.4 2785.0 782.8 2783.4 785.7 2782.5C788.6 2781.6 791.1 2783.0 793.7 2781.3C796.4 2779.6 799.0 2775.7 801.6 2772.4C804.2 2769.1 807.1 2764.2 809.5 2761.3C811.9 2758.4 813.2 2756.2 815.9 2754.9C818.5 2753.6 822.5 2753.7 825.4 2753.3C828.3 2752.9 830.6 2754.0 833.3 2752.7C835.9 2751.4 838.6 2748.2 841.3 2745.4C843.9 2742.6 846.6 2738.3 849.2 2735.9C851.8 2733.5 854.5 2732.4 857.1 2731.1C859.8 2729.8 862.2 2730.0 865.1 2727.9C868.0 2725.8 872.0 2720.7 874.6 2718.4C877.2 2716.1 878.4 2715.1 881.0 2714.3C883.6 2713.5 887.9 2714.9 890.5 2713.7C893.1 2712.5 894.7 2710.8 896.8 2707.3C898.9 2703.9 900.8 2697.5 903.2 2693.0C905.6 2688.5 908.5 2683.2 911.1 2680.3C913.7 2677.4 916.4 2676.9 919.0 2675.6C921.6 2674.3 924.4 2674.0 927.0 2672.4C929.6 2670.8 932.0 2669.4 934.9 2666.0C937.8 2662.6 941.2 2656.2 944.4 2651.7C947.6 2647.2 950.3 2643.0 954.0 2639.0C957.7 2635.0 963.6 2631.1 966.7 2627.9C969.8 2624.7 970.1 2623.7 972.7 2619.7C975.3 2615.7 979.0 2609.1 982.2 2603.8C985.4 2598.5 988.5 2592.4 991.7 2587.9C994.9 2583.4 998.1 2579.8 1001.3 2576.8C1004.5 2573.8 1007.6 2572.4 1010.8 2569.8C1014.0 2567.2 1017.1 2564.8 1020.3 2561.0C1023.5 2557.2 1026.6 2551.5 1029.8 2546.7C1033.0 2541.9 1036.5 2535.2 1039.4 2532.4C1042.3 2529.6 1044.9 2529.9 1047.3 2529.8C1049.7 2529.7 1051.3 2531.0 1053.7 2531.7C1056.1 2532.4 1059.0 2534.9 1061.6 2534.0C1064.2 2533.1 1066.6 2528.5 1069.5 2526.0C1072.4 2523.5 1076.1 2521.1 1079.0 2519.0C1081.9 2516.9 1084.3 2515.9 1087.0 2513.3C1089.7 2510.7 1092.5 2505.4 1094.9 2503.2C1097.3 2501.0 1098.9 2500.0 1101.3 2500.0C1103.7 2500.0 1106.8 2502.3 1109.2 2503.2C1111.6 2504.1 1113.5 2506.1 1115.6 2505.4C1117.7 2504.7 1119.5 2502.7 1121.9 2499.0C1124.3 2495.3 1127.2 2488.2 1129.8 2483.2C1132.4 2478.2 1135.1 2473.1 1137.8 2468.9C1140.5 2464.7 1142.5 2461.2 1145.7 2457.8C1148.9 2454.4 1153.4 2451.5 1156.8 2448.3C1160.2 2445.1 1163.4 2442.7 1166.3 2438.7C1169.2 2434.7 1171.9 2429.7 1174.3 2424.4C1176.7 2419.1 1178.2 2412.3 1180.6 2407.0C1183.0 2401.7 1185.9 2395.6 1188.6 2392.7C1191.2 2389.8 1193.9 2389.2 1196.5 2389.5C1199.1 2389.8 1201.8 2392.2 1204.4 2394.3C1207.1 2396.4 1209.5 2399.7 1212.4 2402.2C1215.3 2404.7 1218.7 2406.3 1221.9 2409.2C1225.1 2412.1 1228.2 2414.8 1231.4 2419.7C1234.6 2424.6 1237.8 2432.3 1241.0 2438.7C1244.2 2445.0 1247.3 2452.2 1250.5 2457.8C1253.7 2463.4 1257.1 2468.2 1260.0 2472.1C1262.9 2476.0 1265.5 2479.4 1267.9 2481.0C1270.3 2482.6 1272.2 2482.6 1274.3 2481.6C1276.4 2480.6 1278.2 2478.9 1280.6 2475.2C1283.0 2471.5 1285.7 2464.7 1288.6 2459.4C1291.5 2454.1 1294.9 2448.8 1298.1 2443.5C1301.3 2438.2 1304.7 2432.4 1307.6 2427.6C1310.5 2422.8 1312.9 2417.4 1315.6 2414.9C1318.2 2412.4 1320.9 2413.2 1323.5 2412.4C1326.1 2411.6 1328.7 2412.0 1331.4 2410.2C1334.2 2408.4 1338.0 2403.4 1340.0 2401.6C1342.0 2399.8 1341.3 2400.2 1343.5 2399.4C1345.7 2398.6 1350.1 2397.6 1353.0 2396.8C1355.9 2396.0 1358.3 2396.8 1361.0 2394.6C1363.7 2392.4 1366.3 2386.8 1368.9 2383.5C1371.5 2380.2 1374.2 2376.4 1376.8 2374.6C1379.4 2372.8 1382.1 2372.0 1384.8 2372.4C1387.5 2372.8 1390.1 2375.2 1392.7 2377.1C1395.3 2378.9 1398.2 2382.7 1400.6 2383.5C1403.0 2384.3 1404.6 2384.3 1407.0 2381.9C1409.4 2379.5 1412.2 2372.6 1414.9 2369.2C1417.6 2365.8 1420.2 2362.6 1422.9 2361.3C1425.6 2360.0 1428.2 2360.2 1430.8 2361.3C1433.4 2362.4 1436.0 2365.6 1438.7 2367.6C1441.4 2369.6 1444.3 2373.6 1446.7 2373.3C1449.1 2373.0 1450.9 2368.4 1453.0 2366.0C1455.1 2363.6 1457.3 2359.8 1459.4 2358.7C1461.5 2357.6 1463.6 2357.9 1465.7 2359.7C1467.8 2361.4 1469.7 2365.0 1472.1 2369.2C1474.5 2373.4 1477.4 2379.5 1480.0 2385.1C1482.6 2390.7 1485.0 2396.4 1487.9 2402.5C1490.8 2408.6 1494.6 2414.7 1497.5 2421.6C1500.4 2428.5 1503.0 2436.9 1505.4 2443.8C1507.8 2450.7 1509.3 2456.6 1511.7 2462.9C1514.1 2469.2 1517.1 2476.9 1519.7 2481.9C1522.3 2486.9 1524.7 2490.6 1527.6 2493.0C1530.5 2495.4 1534.4 2494.3 1537.1 2496.2C1539.8 2498.0 1541.4 2499.6 1543.5 2504.1C1545.6 2508.6 1547.7 2516.8 1549.8 2523.2C1551.9 2529.5 1554.1 2537.9 1556.2 2542.2C1558.3 2546.5 1560.4 2549.2 1562.5 2549.2C1564.6 2549.2 1566.5 2547.1 1568.9 2542.2C1571.3 2537.3 1574.2 2526.6 1576.8 2520.0C1579.4 2513.4 1582.4 2506.6 1584.8 2502.5C1587.2 2498.4 1589.0 2495.8 1591.1 2495.6C1593.2 2495.3 1595.4 2497.5 1597.5 2501.0C1599.6 2504.5 1601.7 2513.1 1603.8 2516.8C1605.9 2520.5 1607.8 2521.9 1610.2 2523.2C1612.6 2524.5 1615.7 2522.7 1618.1 2524.8C1620.5 2526.9 1622.3 2530.4 1624.4 2535.9C1626.5 2541.4 1628.7 2550.2 1630.8 2558.1C1632.9 2566.0 1635.2 2575.6 1637.1 2583.5C1638.9 2591.4 1640.6 2599.9 1641.9 2605.7C1643.2 2611.5 1644.6 2616.3 1645.1 2618.4" stroke="#0693d8" stroke-width="6.5" fill="none" stroke-linejoin="round" stroke-linecap="round"/>
<path d="M249.0 3076.2C249.5 3077.5 250.9 3081.4 252.2 3084.1C253.5 3086.8 255.4 3090.6 257.0 3092.1C258.6 3093.6 259.3 3093.5 261.7 3093.0C264.1 3092.5 268.1 3090.9 271.3 3088.9C274.5 3086.9 277.1 3084.7 280.8 3081.0C284.5 3077.3 289.3 3071.7 293.5 3066.7C297.7 3061.7 302.0 3056.4 306.2 3050.8C310.4 3045.2 314.7 3038.6 318.9 3033.3C323.1 3028.0 327.4 3023.5 331.6 3019.0C335.8 3014.5 340.3 3010.3 344.3 3006.3C348.3 3002.3 351.7 2999.9 355.4 2995.2C359.1 2990.4 362.8 2983.4 366.5 2977.8C370.2 2972.2 373.9 2966.1 377.6 2961.9C381.3 2957.7 385.2 2955.3 388.7 2952.4C392.1 2949.5 395.1 2947.9 398.3 2944.4C401.5 2940.9 404.9 2935.1 407.8 2931.7C410.7 2928.3 413.3 2925.0 415.7 2923.8C418.1 2922.7 419.7 2923.9 422.1 2924.8C424.5 2925.7 427.6 2928.8 430.0 2929.2C432.4 2929.6 433.7 2929.2 436.3 2927.0C438.9 2924.8 442.7 2919.3 445.9 2915.9C449.1 2912.5 452.2 2909.7 455.4 2906.3C458.6 2902.9 461.2 2898.6 464.9 2895.6C468.6 2892.6 473.9 2890.4 477.6 2888.3C481.3 2886.2 483.9 2885.3 487.1 2882.9C490.3 2880.5 493.0 2876.8 496.7 2874.0C500.4 2871.2 505.2 2868.4 509.4 2866.0C513.6 2863.6 518.1 2861.8 522.1 2859.7C526.1 2857.6 529.8 2855.3 533.2 2853.3C536.6 2851.3 539.5 2848.4 542.7 2847.9C545.9 2847.4 548.8 2850.6 552.2 2850.2C555.6 2849.8 559.6 2847.1 563.3 2845.4C567.0 2843.7 571.2 2841.1 574.4 2840.0C577.6 2838.9 579.5 2839.7 582.4 2839.0C585.3 2838.3 588.7 2837.8 591.9 2835.9C595.1 2834.1 598.5 2829.6 601.4 2827.9C604.3 2826.2 606.8 2825.7 609.4 2825.7C612.0 2825.7 614.7 2825.9 617.3 2827.9C619.9 2829.9 622.6 2834.5 625.2 2837.5C627.9 2840.5 630.6 2844.2 633.2 2846.0C635.9 2847.8 637.9 2848.7 641.1 2848.6C644.3 2848.5 648.2 2846.5 652.2 2845.4C656.2 2844.3 660.7 2843.0 664.9 2842.2C669.1 2841.4 673.9 2840.3 677.6 2840.6C681.3 2840.9 683.9 2842.9 687.1 2843.8C690.3 2844.7 692.9 2846.0 696.7 2846.0C700.5 2846.0 707.3 2844.2 710.0 2843.8C712.7 2843.4 710.1 2843.6 712.7 2843.8C715.3 2844.0 721.7 2845.1 725.4 2844.8C729.1 2844.5 731.7 2843.7 734.9 2842.2C738.1 2840.7 741.2 2837.4 744.4 2835.9C747.6 2834.4 750.8 2834.2 754.0 2833.3C757.2 2832.4 759.8 2831.1 763.5 2830.2C767.2 2829.3 772.5 2828.8 776.2 2827.9C779.9 2827.0 782.5 2826.1 785.7 2824.8C788.9 2823.5 791.5 2821.8 795.2 2820.0C798.9 2818.2 803.9 2816.2 807.9 2814.3C811.9 2812.5 815.5 2811.4 819.0 2808.9C822.5 2806.4 825.1 2802.8 828.6 2799.4C832.1 2796.0 835.7 2791.5 839.7 2788.3C843.7 2785.1 848.2 2782.9 852.4 2780.3C856.6 2777.8 860.9 2775.1 865.1 2773.0C869.3 2770.9 873.8 2768.8 877.8 2767.6C881.8 2766.4 885.5 2767.3 888.9 2766.0C892.3 2764.7 895.2 2762.3 898.4 2759.7C901.6 2757.1 904.7 2753.4 907.9 2750.2C911.1 2747.0 914.0 2743.5 917.5 2740.6C921.0 2737.7 924.9 2735.3 928.6 2732.7C932.3 2730.1 936.0 2726.9 939.7 2724.8C943.4 2722.7 947.6 2722.1 950.8 2720.0C954.0 2717.9 956.1 2715.3 958.7 2712.1C961.4 2708.9 964.1 2703.8 966.7 2701.0C969.4 2698.2 972.0 2696.7 974.6 2695.6C977.2 2694.5 979.9 2695.3 982.5 2694.6C985.1 2693.9 987.9 2693.5 990.5 2691.4C993.1 2689.3 995.8 2685.6 998.4 2681.9C1001.0 2678.2 1003.6 2672.4 1006.3 2669.2C1008.9 2666.0 1011.4 2664.3 1014.3 2662.9C1017.2 2661.5 1020.9 2661.9 1023.8 2660.6C1026.7 2659.3 1028.5 2657.5 1031.7 2654.9C1034.9 2652.3 1039.2 2648.0 1042.9 2644.8C1046.6 2641.6 1050.8 2639.0 1054.0 2635.9C1057.2 2632.8 1057.7 2630.1 1061.9 2626.3C1066.1 2622.5 1074.0 2615.6 1079.0 2613.3C1084.0 2611.0 1087.5 2613.0 1091.7 2612.7C1095.9 2612.4 1100.7 2612.5 1104.4 2611.7C1108.1 2610.9 1110.5 2610.0 1114.0 2607.9C1117.5 2605.8 1121.7 2602.3 1125.1 2599.0C1128.5 2595.7 1131.4 2592.1 1134.6 2587.9C1137.8 2583.7 1140.9 2578.7 1144.1 2573.7C1147.3 2568.7 1150.2 2562.6 1153.7 2557.8C1157.2 2553.0 1161.1 2549.1 1164.8 2545.1C1168.5 2541.1 1172.2 2537.7 1175.9 2534.0C1179.6 2530.3 1183.6 2525.9 1187.0 2522.9C1190.4 2519.9 1193.3 2517.4 1196.5 2515.9C1199.7 2514.4 1202.8 2513.9 1206.0 2514.0C1209.2 2514.1 1212.4 2515.3 1215.6 2516.5C1218.8 2517.7 1222.2 2518.4 1225.1 2521.3C1228.0 2524.2 1230.3 2528.2 1233.0 2534.0C1235.7 2539.8 1238.3 2549.3 1241.0 2556.2C1243.7 2563.1 1246.0 2569.4 1248.9 2575.2C1251.8 2581.0 1255.2 2587.2 1258.4 2591.1C1261.6 2595.0 1265.0 2597.1 1267.9 2598.4C1270.8 2599.7 1273.2 2599.7 1275.9 2599.0C1278.6 2598.3 1280.9 2597.5 1283.8 2594.3C1286.7 2591.1 1290.1 2585.0 1293.3 2580.0C1296.5 2575.0 1299.5 2569.1 1302.9 2564.1C1306.4 2559.1 1310.3 2554.0 1314.0 2549.8C1317.7 2545.6 1320.8 2542.7 1325.1 2538.7C1329.4 2534.7 1336.9 2528.3 1340.0 2526.0C1343.1 2523.7 1341.3 2525.4 1343.5 2524.8C1345.7 2524.2 1350.1 2523.6 1353.0 2522.5C1355.9 2521.4 1358.1 2520.5 1361.0 2518.4C1363.9 2516.3 1367.3 2512.1 1370.5 2509.8C1373.7 2507.5 1376.8 2505.6 1380.0 2504.8C1383.2 2504.0 1386.3 2504.9 1389.5 2504.8C1392.7 2504.7 1395.5 2503.8 1399.0 2504.1C1402.5 2504.4 1407.3 2506.8 1410.2 2506.7C1413.1 2506.6 1414.1 2504.9 1416.5 2503.5C1418.9 2502.1 1421.8 2499.1 1424.4 2498.4C1427.1 2497.7 1430.0 2499.2 1432.4 2499.4C1434.8 2499.6 1436.3 2500.3 1438.7 2499.4C1441.1 2498.5 1444.3 2495.2 1446.7 2494.0C1449.1 2492.8 1450.9 2492.0 1453.0 2492.4C1455.1 2492.8 1457.0 2493.4 1459.4 2496.2C1461.8 2498.9 1464.7 2504.4 1467.3 2508.9C1469.9 2513.4 1472.5 2518.2 1475.2 2523.2C1477.9 2528.2 1480.3 2533.7 1483.2 2539.0C1486.1 2544.3 1489.5 2549.3 1492.7 2554.9C1495.9 2560.5 1499.0 2566.1 1502.2 2572.4C1505.4 2578.8 1508.8 2586.4 1511.7 2593.0C1514.6 2599.6 1517.1 2605.7 1519.7 2612.1C1522.3 2618.5 1525.2 2627.3 1527.6 2631.4C1530.0 2635.5 1531.6 2636.4 1534.0 2636.8C1536.4 2637.2 1539.5 2634.9 1541.9 2633.7C1544.3 2632.5 1546.2 2629.7 1548.3 2629.8C1550.4 2630.0 1552.5 2631.4 1554.6 2634.6C1556.7 2637.8 1558.9 2644.7 1561.0 2648.9C1563.1 2653.1 1565.2 2657.8 1567.3 2660.0C1569.4 2662.2 1571.6 2663.5 1573.7 2662.2C1575.8 2660.9 1577.9 2656.4 1580.0 2652.1C1582.1 2647.8 1584.5 2639.3 1586.3 2636.2C1588.1 2633.1 1589.5 2632.6 1591.1 2633.7C1592.7 2634.8 1594.1 2637.3 1595.9 2642.5C1597.8 2647.7 1600.1 2659.0 1602.2 2664.8C1604.3 2670.6 1606.2 2674.9 1608.6 2677.5C1611.0 2680.1 1613.9 2680.9 1616.5 2680.6C1619.1 2680.3 1621.8 2678.0 1624.4 2675.9C1627.1 2673.8 1630.0 2669.8 1632.4 2667.9C1634.8 2666.1 1636.6 2665.3 1638.7 2664.8C1640.8 2664.3 1644.0 2664.8 1645.1 2664.8" stroke="#00ba4e" stroke-width="6.5" fill="none" stroke-linejoin="round" stroke-linecap="round"/>
<path d="M309.3 3228.4v12.5M476.4 3228.4v12.5M643.4 3228.4v12.5M810.5 3228.4v12.5M977.5 3228.4v12.5M1144.5 3228.4v12.5M1311.6 3228.4v12.5M1478.7 3228.4v12.5M1645.7 3228.4v12.5M240.7 2402.3h-15M240.7 2520.9h-15M240.7 2639.4h-15M240.7 2758.0h-15M240.7 2876.5h-15M240.7 2995.1h-15M240.7 3113.6h-15" stroke="#666666" stroke-width="4.2" fill="none"/>
<path d="M238.2 2318.5H1648.2M238.2 3228.4H1648.2" fill="none" stroke="#6c6c6c" stroke-width="5.0"/>
<path d="M240.7 2318.5V3228.4M1645.7 2318.5V3228.4" fill="none" stroke="#606060" stroke-width="5.0"/>
</g>
<g filter="url(#bt)">
<text transform="translate(305.8,3281.4) scale(1.0000,0.9850)" font-family='"DejaVu Sans","Liberation Sans",sans-serif' font-size="38" text-anchor="middle" fill="#383838" stroke="#383838" stroke-width="1.0">500</text>
<text transform="translate(472.9,3281.4) scale(1.0000,0.9850)" font-family='"DejaVu Sans","Liberation Sans",sans-serif' font-size="38" text-anchor="middle" fill="#383838" stroke="#383838" stroke-width="1.0">750</text>
<text transform="translate(643.4,3281.4) scale(1.0000,0.9850)" font-family='"DejaVu Sans","Liberation Sans",sans-serif' font-size="38" text-anchor="middle" fill="#383838" stroke="#383838" stroke-width="1.0">1000</text>
<text transform="translate(810.5,3281.4) scale(1.0000,0.9850)" font-family='"DejaVu Sans","Liberation Sans",sans-serif' font-size="38" text-anchor="middle" fill="#383838" stroke="#383838" stroke-width="1.0">1250</text>
<text transform="translate(977.5,3281.4) scale(1.0000,0.9850)" font-family='"DejaVu Sans","Liberation Sans",sans-serif' font-size="38" text-anchor="middle" fill="#383838" stroke="#383838" stroke-width="1.0">1500</text>
<text transform="translate(1144.5,3281.4) scale(1.0000,0.9850)" font-family='"DejaVu Sans","Liberation Sans",sans-serif' font-size="38" text-anchor="middle" fill="#383838" stroke="#383838" stroke-width="1.0">1750</text>
<text transform="translate(1311.6,3281.4) scale(1.0000,0.9850)" font-family='"DejaVu Sans","Liberation Sans",sans-serif' font-size="38" text-anchor="middle" fill="#383838" stroke="#383838" stroke-width="1.0">2000</text>
<text transform="translate(1478.7,3281.4) scale(1.0000,0.9850)" font-family='"DejaVu Sans","Liberation Sans",sans-serif' font-size="38" text-anchor="middle" fill="#383838" stroke="#383838" stroke-width="1.0">2250</text>
<text transform="translate(1645.7,3281.4) scale(1.0000,0.9850)" font-family='"DejaVu Sans","Liberation Sans",sans-serif' font-size="38" text-anchor="middle" fill="#383838" stroke="#383838" stroke-width="1.0">2500</text>
<text transform="translate(210.7,2417.3) scale(1.0000,0.9850)" font-family='"DejaVu Sans","Liberation Sans",sans-serif' font-size="38" text-anchor="end" fill="#383838" stroke="#383838" stroke-width="1.0">2000</text>
<text transform="translate(210.7,2535.9) scale(1.0000,0.9850)" font-family='"DejaVu Sans","Liberation Sans",sans-serif' font-size="38" text-anchor="end" fill="#383838" stroke="#383838" stroke-width="1.0">1750</text>
<text transform="translate(210.7,2654.4) scale(1.0000,0.9850)" font-family='"DejaVu Sans","Liberation Sans",sans-serif' font-size="38" text-anchor="end" fill="#383838" stroke="#383838" stroke-width="1.0">1500</text>
<text transform="translate(210.7,2773.0) scale(1.0000,0.9850)" font-family='"DejaVu Sans","Liberation Sans",sans-serif' font-size="38" text-anchor="end" fill="#383838" stroke="#383838" stroke-width="1.0">1250</text>
<text transform="translate(210.7,2891.5) scale(1.0000,0.9850)" font-family='"DejaVu Sans","Liberation Sans",sans-serif' font-size="38" text-anchor="end" fill="#383838" stroke="#383838" stroke-width="1.0">1000</text>
<text transform="translate(210.7,3010.1) scale(1.0000,0.9850)" font-family='"DejaVu Sans","Liberation Sans",sans-serif' font-size="38" text-anchor="end" fill="#383838" stroke="#383838" stroke-width="1.0">750</text>
<text transform="translate(210.7,3128.6) scale(1.0000,0.9850)" font-family='"DejaVu Sans","Liberation Sans",sans-serif' font-size="38" text-anchor="end" fill="#383838" stroke="#383838" stroke-width="1.0">500</text>
<text transform="translate(943.9,3329.0) scale(1.0370,0.8930)" font-family='"DejaVu Sans","Liberation Sans",sans-serif' font-size="38" text-anchor="middle" fill="#383838" stroke="#383838" stroke-width="1.0">Wavelength [nm]</text>
<text transform="translate(943.9,2296.7) scale(1.1100,0.9300)" font-family='"DejaVu Sans","Liberation Sans",sans-serif' font-size="42" text-anchor="middle" fill="#383838" stroke="#383838" stroke-width="1.0">Pyroxenite</text>
<text transform="translate(83.2,2776.9) rotate(-90) scale(0.9550,1.0900)" font-family='"DejaVu Sans","Liberation Sans",sans-serif' font-size="36" text-anchor="middle" fill="#383838" stroke="#383838" stroke-width="1.0">Reflectance [%] * 100</text>
<text transform="translate(1588.5,2403.0) scale(0.7800,1.0000)" font-family='"Liberation Sans",sans-serif' font-size="78" text-anchor="middle" fill="#0a0a0a">C</text>
<text transform="translate(1675.0,2377.2) scale(1.1000,1.0000)" font-family='"Liberation Sans",sans-serif' font-size="57" text-anchor="start" fill="#4bae4f">pyroxenite01</text>
<text transform="translate(1675.0,2451.7) scale(1.1000,1.0000)" font-family='"Liberation Sans",sans-serif' font-size="57" text-anchor="start" fill="#2f78c8">pyroxenite02</text>
<text transform="translate(1675.0,2524.7) scale(1.1000,1.0000)" font-family='"Liberation Sans",sans-serif' font-size="57" text-anchor="start" fill="#fa7d3c">pyroxenite03</text>
</g>
</g>
<g filter="url(#br)">
<rect x="335.9" y="86.6" width="100.6" height="3213.9" fill="rgba(82,136,206,0.47)" stroke="#0b4f96" stroke-width="10.6"/>
<rect x="578.1" y="86.6" width="162.8" height="3213.9" fill="rgba(82,136,206,0.47)" stroke="#0b4f96" stroke-width="10.6"/>
</g>
</svg></body></html>
